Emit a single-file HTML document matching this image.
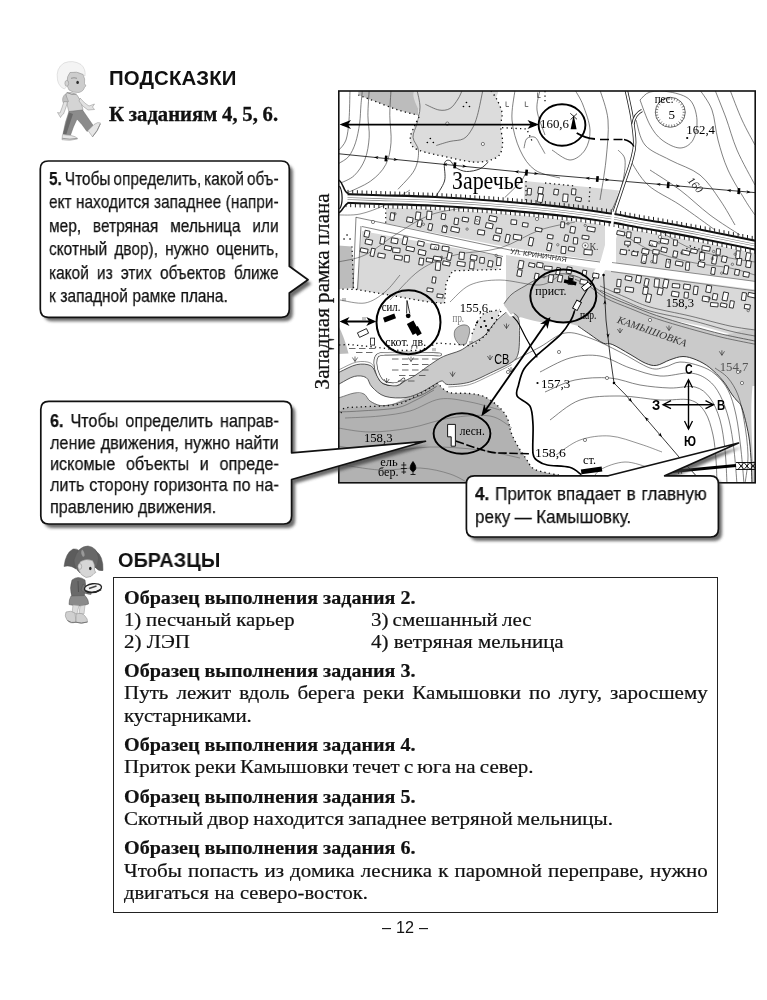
<!DOCTYPE html>
<html lang="ru"><head><meta charset="utf-8"><title>Подсказки</title>
<style>
html,body{margin:0;padding:0;background:#fff;}
body{width:767px;height:1000px;position:relative;overflow:hidden;color:#111;}
.t{position:absolute;white-space:pre;transform-origin:0 0;margin:0;padding:0;}
.t b{font-weight:700;}
svg{position:absolute;left:0;top:0;will-change:transform;}
.t{will-change:transform;}
.box{position:absolute;left:113px;top:577.2px;width:605.4px;height:335.4px;border:1.3px solid #222;box-sizing:border-box;}
</style></head><body>
<svg width="767" height="1000" viewBox="0 0 767 1000">
<defs><clipPath id="mc"><rect x="338.8" y="91" width="416.4" height="391.8"/></clipPath></defs>
<g clip-path="url(#mc)">
<rect x="338" y="90" width="418" height="394" fill="#fff"/>
<path d="M358.3,90 L418,90 L418.5,115.4 L398,110 L376,101.7 L358.3,95Z" fill="#bcbcbc"/>
<path d="M418.0,88.0 C429.9,83.4 477.9,86.2 491.0,88.0 C504.1,89.8 494.8,94.9 496.6,99.0 C498.4,103.1 501.3,108.0 502.0,112.6 C502.7,117.1 500.6,121.3 500.7,126.3 C500.8,131.3 502.8,138.0 502.6,142.8 C502.4,147.6 501.7,152.1 499.3,155.1 C496.9,158.1 492.9,159.5 488.3,160.6 C483.7,161.7 479.2,162.6 471.9,161.9 C464.6,161.2 452.2,158.1 444.5,156.5 C436.8,154.9 430.6,153.9 425.4,152.3 C420.1,150.7 415.5,149.4 413.0,146.9 C410.5,144.4 410.1,140.7 410.3,137.3 C410.5,133.9 412.8,129.9 414.4,126.3 C416.0,122.6 419.3,121.8 419.9,115.4 C420.5,109.0 406.1,92.6 418.0,88.0Z" fill="#dcdcdc"/>
<path d="M338,245.5 L352,246.5 L354,288 L338,289Z" fill="#bcbcbc"/>
<polygon points="386.0,207.8 396.0,208.1 406.0,208.4 416.0,208.8 426.0,209.1 436.0,209.5 446.0,210.1 456.0,210.7 466.0,211.3 476.0,211.9 486.0,212.6 496.0,213.3 506.0,214.1 516.0,215.0 526.0,215.8 536.0,216.7 546.0,217.7 556.0,218.8 566.0,219.9 576.0,221.1 586.0,222.4 596.0,223.8 605.0,225.1 605.0,261.7 596.0,260.4 586.0,258.9 576.0,257.4 566.0,255.9 556.0,254.4 546.0,252.9 536.0,251.4 526.0,249.9 516.0,248.4 506.0,246.8 496.0,244.9 486.0,243.0 476.0,241.1 466.0,239.1 456.0,237.1 446.0,235.2 436.0,233.2 426.0,231.2 416.0,229.2 406.0,227.2 396.0,225.2 386.0,223.3" fill="#d9d9d9"/>
<polygon points="524.5,181.0 592.0,187.5 619.0,190.5 612.0,213.0 524.0,201.0" fill="#d9d9d9"/>
<polygon points="362.0,231.0 502.0,256.5 500.7,269.4 452.7,270.8 446.0,283.0 444.5,303.5 425.4,301.5 400.0,297.0 357.0,289.5" fill="#d9d9d9"/>
<polygon points="506.0,255.0 601.0,269.5 755.0,289.5 760.0,290.0 760.0,345.0 736.4,336.0 701.0,326.0 666.0,319.0 630.8,309.0 606.0,299.0 588.6,287.0 575.0,280.0 560.0,277.5 540.0,281.0 525.0,289.0 512.0,297.0 506.0,303.0" fill="#d9d9d9"/>
<path d="M507.1,311.5 C508.5,308.5 503.2,306.6 504.0,303.7 C504.8,300.8 508.5,296.9 512.0,294.0 C515.5,291.1 520.3,288.7 525.0,286.0 C529.7,283.3 534.2,280.0 540.0,278.0 C545.8,276.0 554.2,274.1 560.0,273.8 C565.8,273.5 570.2,274.5 575.0,276.0 C579.8,277.5 583.4,279.4 588.6,282.6 C593.8,285.8 599.0,291.2 606.0,295.0 C613.0,298.8 622.4,302.1 630.8,305.5 C639.2,308.9 646.7,312.2 656.5,315.5 C666.3,318.8 678.6,322.4 689.7,325.5 C700.8,328.6 711.3,331.6 723.0,334.4 C734.7,337.1 753.8,317.1 760.0,342.0 C766.2,366.9 761.3,460.3 760.0,484.0 C758.7,507.7 753.5,488.2 752.0,484.0 C750.5,479.8 751.6,466.8 751.0,458.6 C750.4,450.4 750.1,443.5 748.6,435.0 C747.1,426.5 744.0,413.6 741.9,407.8 C739.8,402.0 738.0,402.3 736.3,400.0 C734.6,397.7 734.0,397.4 731.8,394.2 C729.6,391.0 726.7,385.3 723.0,380.9 C719.3,376.5 714.1,371.1 709.7,367.6 C705.3,364.1 700.9,361.8 696.4,359.9 C691.9,358.0 687.4,356.5 683.0,356.5 C678.6,356.5 674.2,358.4 669.8,359.9 C665.4,361.4 660.6,364.8 656.5,365.4 C652.4,365.9 649.8,365.0 645.4,363.2 C641.0,361.4 635.5,357.4 630.0,354.3 C624.5,351.2 616.7,346.2 612.2,344.4 C607.8,342.5 607.0,344.9 603.3,343.2 C599.6,341.5 594.2,337.3 590.0,334.4 C585.8,331.5 583.0,328.0 578.0,326.0 C573.0,324.0 566.3,323.2 560.0,322.5 C553.7,321.8 545.5,322.6 540.0,322.0 C534.5,321.4 530.6,319.6 527.0,319.0 C523.4,318.4 519.9,315.5 518.6,318.7 C517.4,321.9 519.6,332.1 519.5,338.0 C519.4,343.9 519.3,349.9 518.0,354.0 C516.7,358.1 516.3,359.2 511.7,362.3 C507.1,365.4 497.6,369.6 490.5,372.9 C483.4,376.2 476.4,380.2 469.4,382.2 C462.4,384.1 452.8,384.8 448.3,384.6 C443.8,384.4 444.3,381.2 442.4,381.0 C440.4,380.8 439.9,381.6 436.6,383.4 C433.3,385.2 427.6,389.2 422.5,391.6 C417.4,394.0 412.2,396.7 406.0,397.5 C399.8,398.3 390.7,398.1 385.0,396.3 C379.3,394.6 375.1,390.1 372.0,387.0 C368.9,383.9 369.1,379.4 366.2,377.6 C363.3,375.8 358.7,375.4 354.4,376.4 C350.1,377.4 343.7,381.6 340.3,383.4 C336.9,385.2 335.1,388.4 334.0,387.0 C332.9,385.6 332.9,377.6 334.0,375.0 C335.1,372.4 336.5,373.4 340.3,371.7 C344.1,370.0 351.7,365.6 356.8,364.6 C361.9,363.6 367.6,364.0 370.9,365.8 C374.2,367.6 374.8,372.3 376.7,375.2 C378.6,378.1 379.3,381.6 382.6,383.4 C385.9,385.2 393.0,386.2 396.7,385.8 C400.4,385.4 401.8,382.8 404.9,381.0 C408.0,379.2 410.9,378.1 415.4,375.2 C419.9,372.3 427.2,366.6 431.9,363.5 C436.6,360.4 438.9,358.5 443.6,356.4 C448.3,354.2 455.7,352.6 460.0,350.6 C464.3,348.7 465.4,347.1 469.4,344.7 C473.4,342.2 479.8,339.8 484.2,335.9 C488.6,332.0 491.8,325.7 495.6,321.6 C499.4,317.5 505.7,314.5 507.1,311.5Z" fill="#cacaca"/>
<polygon points="616.0,226.8 626.0,228.7 636.0,230.5 646.0,232.3 656.0,233.9 666.0,235.7 676.0,237.6 686.0,239.4 696.0,241.3 706.0,243.2 716.0,245.2 726.0,247.2 736.0,249.3 746.0,251.3 756.0,253.3 756.0,281.7 746.0,280.4 736.0,279.1 726.0,277.7 716.0,276.4 706.0,275.1 696.0,273.8 686.0,272.4 676.0,271.1 666.0,269.8 656.0,268.5 646.0,267.1 636.0,265.8 626.0,264.5 616.0,263.2" fill="#d9d9d9"/>
<path d="M616,222 L605,262 L597,275" stroke="#fff" stroke-width="9" fill="none"/>
<path d="M503,250 L498.8,306" stroke="#fff" stroke-width="6.5" fill="none"/>
<polygon points="334.0,399.0 340.3,397.4 354.4,393.0 364.0,394.0 370.0,401.0 380.0,405.5 392.0,404.5 406.0,397.5 422.5,391.6 436.6,383.4 439.0,384.0 431.9,388.5 415.4,398.0 396.7,406.5 361.5,409.0 345.0,410.0 340.0,414.0 334.0,416.0" fill="#c2c2c2"/>
<path d="M334.0,416.0 C335.0,403.2 338.2,412.3 340.0,411.0 C341.8,409.7 341.4,408.7 345.0,408.0 C348.6,407.3 352.9,407.5 361.5,406.9 C370.1,406.3 387.7,406.3 396.7,404.5 C405.7,402.7 409.5,399.2 415.4,396.3 C421.3,393.4 428.2,389.0 431.9,386.9 C435.6,384.8 435.9,383.2 437.7,383.4 C439.4,383.6 440.2,386.5 442.4,388.1 C444.5,389.7 446.1,391.9 450.6,392.8 C455.1,393.7 463.9,392.9 469.4,393.5 C474.9,394.1 478.8,394.3 483.5,396.3 C488.2,398.3 493.7,402.2 497.6,405.7 C501.5,409.2 504.7,412.9 507.0,417.4 C509.3,421.9 509.4,427.9 511.3,432.9 C513.2,437.9 516.2,443.2 518.6,447.5 C521.0,451.8 523.5,454.9 525.9,458.4 C528.3,461.9 529.6,466.0 533.2,468.4 C536.9,470.8 540.8,471.4 547.8,473.0 C554.8,474.6 566.3,475.5 575.0,478.0 C583.7,480.5 640.2,486.3 600.0,488.0 C559.8,489.7 378.3,500.0 334.0,488.0 C289.7,476.0 333.0,428.8 334.0,416.0Z" fill="#b2b2b2"/>
<rect x="334" y="425" width="70" height="62" fill="#b2b2b2"/>
<path d="M752.5,386 C750,410 752,440 753,461 L756,461 L756,386Z" fill="#fff"/>
<path d="M470,346 L472,334 L477,322 L484,313 L500,310 L497,320 L486,335 L474,346Z" fill="#dcdcdc"/>
<path d="M455,330 C458,325 466,323 469,327 C471,332 468,338 466,344 L460,345 C455,341 453,335 455,330Z" fill="#bdbdbd" stroke="#4a4a4a" stroke-width="0.6"/>
<path d="M338,325 Q344,336 348.5,353.500 L338,354Z" fill="#bcbcbc"/>
<path d="M339.0,163.3 C340.6,162.2 345.9,159.9 348.7,156.5 C351.4,153.1 353.7,148.3 355.5,142.8 C357.3,137.3 358.7,130.0 359.6,123.6 C360.5,117.2 360.5,110.0 361.0,104.4 C361.5,98.8 362.2,92.4 362.4,90.0" fill="none" stroke="#4a4a4a" stroke-width="0.7"/>
<path d="M339.0,183.8 C341.5,182.4 349.9,179.7 354.2,175.6 C358.5,171.5 362.5,165.6 365.0,159.2 C367.5,152.8 368.7,144.6 369.2,137.3 C369.7,130.0 367.9,123.3 367.9,115.4 C367.9,107.5 369.0,94.2 369.2,90.0" fill="none" stroke="#4a4a4a" stroke-width="0.7"/>
<path d="M346.0,193.4 C350.1,191.3 364.0,185.9 370.6,181.1 C377.2,176.3 382.3,171.1 385.7,164.7 C389.1,158.3 390.3,151.0 391.0,142.8 C391.7,134.6 389.8,124.2 389.8,115.4 C389.8,106.6 390.8,94.2 391.0,90.0" fill="none" stroke="#4a4a4a" stroke-width="0.7"/>
<path d="M398.0,189.3 C400.7,186.1 411.0,176.5 414.4,170.1 C417.8,163.7 418.7,156.5 418.5,151.0 C418.3,145.5 413.2,141.9 413.0,137.3 C412.8,132.7 415.8,128.6 417.0,123.6 C418.2,118.6 420.0,112.8 420.0,107.2 C420.0,101.6 417.5,92.9 417.0,90.0" fill="none" stroke="#4a4a4a" stroke-width="0.7"/>
<path d="M425.4,104.4 C427.7,105.3 434.9,109.3 439.0,110.0 C443.1,110.7 446.8,110.3 450.0,108.5 C453.2,106.7 455.9,102.1 458.0,99.0 C460.1,95.9 461.6,91.5 462.3,90.0" fill="none" stroke="#4a4a4a" stroke-width="0.7"/>
<path d="M436.3,145.5 C438.6,144.8 445.4,142.5 450.0,141.4 C454.6,140.3 460.0,140.8 463.7,138.7 C467.4,136.6 469.7,132.9 472.0,129.0 C474.3,125.1 475.6,121.9 477.4,115.4 C479.2,108.9 482.0,94.2 482.9,90.0" fill="none" stroke="#4a4a4a" stroke-width="0.7"/>
<path d="M435.0,197.5 C436.6,194.8 442.9,186.7 444.5,181.0 C446.1,175.3 443.6,166.7 444.5,163.3 C445.4,159.9 448.2,159.9 450.0,160.6 C451.8,161.3 452.8,165.6 455.5,167.4 C458.2,169.2 462.3,171.3 466.4,171.5 C470.5,171.7 476.4,170.4 480.0,168.8 C483.6,167.2 486.9,163.1 488.3,162.0" fill="none" stroke="#222" stroke-width="0.9"/>
<path d="M524.0,148.2 C524.5,146.6 524.9,140.5 526.7,138.7 C528.5,136.9 532.7,136.2 535.0,137.3 C537.3,138.4 538.7,142.8 540.4,145.5 C542.1,148.2 544.2,152.3 545.0,153.7" fill="none" stroke="#4a4a4a" stroke-width="0.7"/>
<path d="M504.8,197.5 C507.5,194.8 517.6,185.6 521.2,181.0 C524.9,176.4 525.8,171.8 526.7,170.0" fill="none" stroke="#4a4a4a" stroke-width="0.7"/>
<path d="M339.0,150.0 C340.2,148.3 344.3,145.0 346.0,140.0 C347.7,135.0 348.3,128.3 349.0,120.0 C349.7,111.7 349.8,95.0 350.0,90.0" fill="none" stroke="#4a4a4a" stroke-width="0.7"/>
<path d="M515.0,90.0 C514.5,95.0 511.2,110.0 512.0,120.0 C512.8,130.0 516.2,141.7 520.0,150.0 C523.8,158.3 528.3,165.3 535.0,170.0 C541.7,174.7 555.8,176.7 560.0,178.0" fill="none" stroke="#4a4a4a" stroke-width="0.7"/>
<path d="M540.0,90.0 C539.5,93.3 536.2,102.5 537.0,110.0 C537.8,117.5 543.7,130.8 545.0,135.0" fill="none" stroke="#4a4a4a" stroke-width="0.7"/>
<path d="M575.0,90.0 C576.3,92.5 580.5,98.3 583.0,105.0 C585.5,111.7 589.7,122.5 590.0,130.0 C590.3,137.5 588.3,145.0 585.0,150.0 C581.7,155.0 575.5,160.0 570.0,160.0 C564.5,160.0 555.0,151.7 552.0,150.0" fill="none" stroke="#4a4a4a" stroke-width="0.7"/>
<path d="M600.0,90.0 C601.3,95.0 607.0,108.3 608.0,120.0 C609.0,131.7 607.3,146.7 606.0,160.0 C604.7,173.3 601.0,193.3 600.0,200.0" fill="none" stroke="#4a4a4a" stroke-width="0.7"/>
<path d="M618.0,150.0 C619.2,151.7 624.3,154.2 625.0,160.0 C625.7,165.8 624.2,176.7 622.0,185.0 C619.8,193.3 613.7,205.8 612.0,210.0" fill="none" stroke="#4a4a4a" stroke-width="0.7"/>
<path d="M640.0,100.0 C641.7,98.7 645.0,93.3 650.0,92.0 C655.0,90.7 663.3,90.7 670.0,92.0 C676.7,93.3 685.5,95.3 690.0,100.0 C694.5,104.7 696.5,113.3 697.0,120.0 C697.5,126.7 695.8,135.3 693.0,140.0 C690.2,144.7 685.2,148.0 680.0,148.0 C674.8,148.0 667.0,143.8 662.0,140.0 C657.0,136.2 653.7,131.7 650.0,125.0 C646.3,118.3 641.7,104.2 640.0,100.0" fill="none" stroke="#4a4a4a" stroke-width="0.7"/>
<path d="M636.0,120.0 C637.5,124.2 639.3,138.3 645.0,145.0 C650.7,151.7 660.8,155.0 670.0,160.0 C679.2,165.0 691.7,168.3 700.0,175.0 C708.3,181.7 714.2,191.7 720.0,200.0 C725.8,208.3 732.5,220.8 735.0,225.0" fill="none" stroke="#4a4a4a" stroke-width="0.7"/>
<path d="M700.0,90.0 C702.0,93.3 709.0,101.7 712.0,110.0 C715.0,118.3 715.3,130.0 718.0,140.0 C720.7,150.0 723.5,160.0 728.0,170.0 C732.5,180.0 740.5,192.5 745.0,200.0 C749.5,207.5 753.3,212.5 755.0,215.0" fill="none" stroke="#4a4a4a" stroke-width="0.7"/>
<path d="M730.0,90.0 C732.0,95.0 737.8,110.8 742.0,120.0 C746.2,129.2 752.8,140.8 755.0,145.0" fill="none" stroke="#4a4a4a" stroke-width="0.7"/>
<path d="M715.0,90.0 C716.8,94.7 722.3,108.0 726.0,118.0 C729.7,128.0 732.2,138.8 737.0,150.0 C741.8,161.2 752.0,179.2 755.0,185.0" fill="none" stroke="#4a4a4a" stroke-width="0.7"/>
<path d="M650.0,170.0 C655.0,173.3 670.0,182.5 680.0,190.0 C690.0,197.5 700.0,207.5 710.0,215.0 C720.0,222.5 735.0,231.7 740.0,235.0" fill="none" stroke="#4a4a4a" stroke-width="0.7"/>
<path d="M630.0,160.0 C633.0,164.2 639.7,177.5 648.0,185.0 C656.3,192.5 668.8,197.5 680.0,205.0 C691.2,212.5 709.2,225.8 715.0,230.0" fill="none" stroke="#4a4a4a" stroke-width="0.7"/>
<path d="M338.0,215.0 C341.7,214.8 352.2,215.7 360.0,214.0 C367.8,212.3 376.7,209.0 385.0,205.0 C393.3,201.0 405.8,192.5 410.0,190.0" fill="none" stroke="#4a4a4a" stroke-width="0.6"/>
<path d="M338.0,262.0 C342.5,260.8 355.5,259.5 365.0,255.0 C374.5,250.5 384.2,241.7 395.0,235.0 C405.8,228.3 417.5,219.7 430.0,215.0 C442.5,210.3 463.3,208.3 470.0,207.0" fill="none" stroke="#4a4a4a" stroke-width="0.6"/>
<path d="M390.0,300.0 C395.0,295.0 409.2,277.5 420.0,270.0 C430.8,262.5 441.7,258.7 455.0,255.0 C468.3,251.3 485.8,252.2 500.0,248.0 C514.2,243.8 527.5,234.3 540.0,230.0 C552.5,225.7 569.2,223.3 575.0,222.0" fill="none" stroke="#4a4a4a" stroke-width="0.6"/>
<path d="M340.0,300.0 C344.2,300.5 357.5,304.3 365.0,303.0 C372.5,301.7 379.2,296.7 385.0,292.0 C390.8,287.3 397.5,277.8 400.0,275.0" fill="none" stroke="#4a4a4a" stroke-width="0.6"/>
<path d="M450.0,302.0 C453.3,299.2 461.7,288.7 470.0,285.0 C478.3,281.3 488.3,280.0 500.0,280.0 C511.7,280.0 530.0,285.8 540.0,285.0 C550.0,284.2 556.7,276.7 560.0,275.0" fill="none" stroke="#4a4a4a" stroke-width="0.6"/>
<path d="M620.0,232.0 C625.0,235.0 638.3,245.0 650.0,250.0 C661.7,255.0 676.7,259.0 690.0,262.0 C703.3,265.0 719.2,265.8 730.0,268.0 C740.8,270.2 750.8,273.8 755.0,275.0" fill="none" stroke="#4a4a4a" stroke-width="0.6"/>
<path d="M655.0,228.0 C660.8,231.3 677.5,243.0 690.0,248.0 C702.5,253.0 719.2,255.7 730.0,258.0 C740.8,260.3 750.8,261.3 755.0,262.0" fill="none" stroke="#4a4a4a" stroke-width="0.6"/>
<path d="M600.0,286.0 C604.2,287.8 616.7,293.5 625.0,297.0 C633.3,300.5 639.2,303.8 650.0,307.0 C660.8,310.2 676.7,312.8 690.0,316.0 C703.3,319.2 719.2,323.7 730.0,326.0 C740.8,328.3 750.8,329.3 755.0,330.0" fill="none" stroke="#4a4a4a" stroke-width="0.7"/>
<path d="M600.0,290.0 C604.2,291.8 616.7,297.5 625.0,301.0 C633.3,304.5 639.2,307.8 650.0,311.0 C660.8,314.2 676.7,316.7 690.0,320.0 C703.3,323.3 719.2,328.3 730.0,331.0 C740.8,333.7 750.8,335.2 755.0,336.0" fill="none" stroke="#4a4a4a" stroke-width="0.7"/>
<path d="M515.0,360.0 C519.2,357.8 531.7,351.5 540.0,347.0 C548.3,342.5 556.7,334.5 565.0,333.0 C573.3,331.5 580.8,334.8 590.0,338.0 C599.2,341.2 610.0,347.0 620.0,352.0 C630.0,357.0 642.5,365.5 650.0,368.0 C657.5,370.5 660.0,368.0 665.0,367.0 C670.0,366.0 674.2,362.2 680.0,362.0 C685.8,361.8 694.2,364.0 700.0,366.0 C705.8,368.0 710.3,370.0 715.0,374.0 C719.7,378.0 724.5,383.2 728.0,390.0 C731.5,396.8 733.8,405.0 736.0,415.0 C738.2,425.0 739.7,438.5 741.0,450.0 C742.3,461.5 743.5,478.3 744.0,484.0" fill="none" stroke="#4a4a4a" stroke-width="0.7"/>
<path d="M540.0,372.0 C545.0,369.7 560.0,360.7 570.0,358.0 C580.0,355.3 590.0,354.3 600.0,356.0 C610.0,357.7 620.0,364.7 630.0,368.0 C640.0,371.3 650.0,375.2 660.0,376.0 C670.0,376.8 682.0,372.3 690.0,373.0 C698.0,373.7 703.0,376.3 708.0,380.0 C713.0,383.7 716.5,388.3 720.0,395.0 C723.5,401.7 726.7,410.8 729.0,420.0 C731.3,429.2 732.7,439.3 734.0,450.0 C735.3,460.7 736.5,478.3 737.0,484.0" fill="none" stroke="#4a4a4a" stroke-width="0.7"/>
<path d="M545.0,392.0 C550.0,390.0 564.2,382.3 575.0,380.0 C585.8,377.7 599.2,377.2 610.0,378.0 C620.8,378.8 630.0,383.3 640.0,385.0 C650.0,386.7 660.8,387.7 670.0,388.0 C679.2,388.3 688.3,385.3 695.0,387.0 C701.7,388.7 705.8,392.5 710.0,398.0 C714.2,403.5 717.5,411.3 720.0,420.0 C722.5,428.7 723.8,439.3 725.0,450.0 C726.2,460.7 726.7,478.3 727.0,484.0" fill="none" stroke="#4a4a4a" stroke-width="0.7"/>
<path d="M550.0,420.0 C555.0,416.7 568.3,404.0 580.0,400.0 C591.7,396.0 606.7,396.0 620.0,396.0 C633.3,396.0 648.3,399.3 660.0,400.0 C671.7,400.7 682.5,398.0 690.0,400.0 C697.5,402.0 701.2,406.2 705.0,412.0 C708.8,417.8 711.2,427.0 713.0,435.0 C714.8,443.0 715.3,451.8 716.0,460.0 C716.7,468.2 716.8,480.0 717.0,484.0" fill="none" stroke="#4a4a4a" stroke-width="0.7"/>
<path d="M745.0,484.0 C745.5,479.2 748.2,465.7 748.0,455.0 C747.8,444.3 745.7,430.0 744.0,420.0 C742.3,410.0 740.7,402.0 738.0,395.0 C735.3,388.0 731.8,382.5 728.0,378.0 C724.2,373.5 717.2,369.7 715.0,368.0" fill="none" stroke="#4a4a4a" stroke-width="0.7"/>
<path d="M556.0,455.0 C560.0,452.5 571.0,443.2 580.0,440.0 C589.0,436.8 600.0,435.3 610.0,436.0 C620.0,436.7 631.3,441.3 640.0,444.0 C648.7,446.7 658.3,450.7 662.0,452.0" fill="none" stroke="#4a4a4a" stroke-width="0.6"/>
<path d="M590.0,484.0 C591.7,481.7 594.2,473.7 600.0,470.0 C605.8,466.3 616.7,462.3 625.0,462.0 C633.3,461.7 645.8,467.0 650.0,468.0" fill="none" stroke="#4a4a4a" stroke-width="0.6"/>
<path d="M504.0,303.7 C505.3,302.1 508.5,296.9 512.0,294.0 C515.5,291.1 520.3,288.7 525.0,286.0 C529.7,283.3 534.2,280.0 540.0,278.0 C545.8,276.0 554.2,274.1 560.0,273.8 C565.8,273.5 570.2,274.5 575.0,276.0 C579.8,277.5 583.4,279.4 588.6,282.6 C593.8,285.8 599.0,291.2 606.0,295.0 C613.0,298.8 622.4,302.1 630.8,305.5 C639.2,308.9 646.7,312.2 656.5,315.5 C666.3,318.8 678.6,322.4 689.7,325.5 C700.8,328.6 711.3,331.6 723.0,334.4 C734.7,337.1 753.8,340.7 760.0,342.0" fill="none" stroke="#4a4a4a" stroke-width="0.8"/>
<path d="M575.0,279.2 C577.3,280.3 583.4,282.6 588.6,285.8 C593.8,289.0 599.0,294.4 606.0,298.2 C613.0,302.0 622.4,305.3 630.8,308.7 C639.2,312.1 646.7,315.4 656.5,318.7 C666.3,322.0 678.6,325.6 689.7,328.7 C700.8,331.8 711.3,334.8 723.0,337.6 C734.7,340.3 753.8,343.9 760.0,345.2" fill="none" stroke="#4a4a4a" stroke-width="0.7"/>
<path d="M752.0,484.0 C751.8,479.8 751.6,466.8 751.0,458.6 C750.4,450.4 750.1,443.5 748.6,435.0 C747.1,426.5 744.0,413.6 741.9,407.8 C739.8,402.0 738.0,402.3 736.3,400.0 C734.6,397.7 734.0,397.4 731.8,394.2 C729.6,391.0 726.7,385.3 723.0,380.9 C719.3,376.5 714.1,371.1 709.7,367.6 C705.3,364.1 700.9,361.8 696.4,359.9 C691.9,358.0 687.4,356.5 683.0,356.5 C678.6,356.5 674.2,358.4 669.8,359.9 C665.4,361.4 660.6,364.8 656.5,365.4 C652.4,365.9 649.8,365.0 645.4,363.2 C641.0,361.4 635.5,357.4 630.0,354.3 C624.5,351.2 616.7,346.2 612.2,344.4 C607.8,342.5 607.0,344.9 603.3,343.2 C599.6,341.5 594.2,337.3 590.0,334.4 C585.8,331.5 580.0,327.4 578.0,326.0" fill="none" stroke="#222" stroke-width="0.9"/>
<path d="M512.9,313.0 C513.9,313.9 517.5,314.5 518.6,318.7 C519.7,322.9 519.6,332.1 519.5,338.0 C519.4,343.9 519.3,349.9 518.0,354.0 C516.7,358.1 516.3,359.2 511.7,362.3 C507.1,365.4 497.6,369.6 490.5,372.9 C483.4,376.2 476.4,380.2 469.4,382.2 C462.4,384.1 452.8,384.8 448.3,384.6 C443.8,384.4 444.3,381.2 442.4,381.0 C440.4,380.8 439.9,381.6 436.6,383.4 C433.3,385.2 427.6,389.2 422.5,391.6 C417.4,394.0 412.2,396.7 406.0,397.5 C399.8,398.3 390.7,398.1 385.0,396.3 C379.3,394.6 375.1,390.1 372.0,387.0 C368.9,383.9 369.1,379.4 366.2,377.6 C363.3,375.8 358.7,375.4 354.4,376.4 C350.1,377.4 343.7,381.6 340.3,383.4 C336.9,385.2 335.1,386.4 334.0,387.0" fill="none" stroke="#333" stroke-width="0.8"/>
<path d="M334.0,375.0 C335.1,374.4 336.5,373.4 340.3,371.7 C344.1,370.0 351.7,365.6 356.8,364.6 C361.9,363.6 367.6,364.0 370.9,365.8 C374.2,367.6 374.8,372.3 376.7,375.2 C378.6,378.1 379.3,381.6 382.6,383.4 C385.9,385.2 393.0,386.2 396.7,385.8 C400.4,385.4 401.8,382.8 404.9,381.0 C408.0,379.2 410.9,378.1 415.4,375.2 C419.9,372.3 427.2,366.6 431.9,363.5 C436.6,360.4 438.9,358.5 443.6,356.4 C448.3,354.2 455.7,352.6 460.0,350.6 C464.3,348.7 465.4,347.1 469.4,344.7 C473.4,342.2 479.8,339.8 484.2,335.9 C488.6,332.0 491.8,325.7 495.6,321.6 C499.4,317.5 505.2,313.2 507.1,311.5" fill="none" stroke="#333" stroke-width="0.8"/>
<path d="M334.0,399.0 C335.1,398.7 336.9,398.4 340.3,397.4 C343.7,396.4 350.4,393.6 354.4,393.0 C358.3,392.4 361.4,392.7 364.0,394.0 C366.6,395.3 367.3,399.1 370.0,401.0 C372.7,402.9 376.3,404.9 380.0,405.5 C383.7,406.1 387.7,405.3 392.0,404.5 C396.3,403.7 400.9,402.1 406.0,400.5 C411.1,398.9 417.4,397.0 422.5,394.6 C427.6,392.2 434.2,387.8 436.6,386.4" fill="none" stroke="#444" stroke-width="0.7"/>
<path d="M334.0,372.4 C335.1,371.8 336.5,370.8 340.3,369.1 C344.1,367.4 351.7,363.0 356.8,362.0 C361.9,361.0 367.6,361.4 370.9,363.2 C374.2,365.0 375.7,371.0 376.7,372.6" fill="none" stroke="#555" stroke-width="0.6"/>
<path d="M511.7,364.7 C508.2,366.5 497.6,372.0 490.5,375.3 C483.4,378.6 476.4,382.6 469.4,384.6 C462.4,386.5 451.8,386.6 448.3,387.0" fill="none" stroke="#555" stroke-width="0.6"/>
<path d="M440.0,354.5 C435.0,354.3 419.2,353.6 410.0,353.5 C400.8,353.4 390.4,353.4 385.0,353.7 C379.6,354.0 379.1,353.9 377.5,355.5 C375.9,357.1 375.2,359.7 375.3,363.0 C375.4,366.3 376.9,372.0 378.3,375.2 C379.8,378.4 380.9,380.8 384.0,382.3 C387.1,383.8 393.4,384.5 396.7,384.0 C399.9,383.5 402.4,380.2 403.5,379.5" fill="none" stroke="#333" stroke-width="3.6" stroke-linecap="round"/>
<path d="M440.0,354.5 C435.0,354.3 419.2,353.6 410.0,353.5 C400.8,353.4 390.4,353.4 385.0,353.7 C379.6,354.0 379.1,353.9 377.5,355.5 C375.9,357.1 375.2,359.7 375.3,363.0 C375.4,366.3 376.9,372.0 378.3,375.2 C379.8,378.4 380.9,380.8 384.0,382.3 C387.1,383.8 393.4,384.5 396.7,384.0 C399.9,383.5 402.4,380.2 403.5,379.5" fill="none" stroke="#f6f6f6" stroke-width="2.3" stroke-linecap="round"/>
<path d="M338.0,428.0 C343.3,428.7 358.0,432.0 370.0,432.0 C382.0,432.0 396.7,430.3 410.0,428.0 C423.3,425.7 436.7,420.0 450.0,418.0 C463.3,416.0 479.7,414.3 490.0,416.0 C500.3,417.7 508.3,426.0 512.0,428.0" fill="none" stroke="#666" stroke-width="0.6"/>
<path d="M338.0,446.0 C345.0,447.0 364.7,451.8 380.0,452.0 C395.3,452.2 413.3,447.3 430.0,447.0 C446.7,446.7 465.0,448.2 480.0,450.0 C495.0,451.8 513.3,456.7 520.0,458.0" fill="none" stroke="#666" stroke-width="0.6"/>
<path d="M338.0,464.0 C345.0,465.0 366.3,469.3 380.0,470.0 C393.7,470.7 408.3,467.3 420.0,468.0 C431.7,468.7 441.7,471.3 450.0,474.0 C458.3,476.7 466.7,482.3 470.0,484.0" fill="none" stroke="#666" stroke-width="0.6"/>
<path d="M345.0,418.0 C350.8,417.7 369.2,417.2 380.0,416.0 C390.8,414.8 400.0,413.8 410.0,411.0 C420.0,408.2 430.0,400.5 440.0,399.0 C450.0,397.5 460.0,400.2 470.0,402.0 C480.0,403.8 495.0,408.7 500.0,410.0" fill="none" stroke="#666" stroke-width="0.6"/>
<path d="M338.0,412.0 C341.7,411.8 350.3,411.7 360.0,411.0 C369.7,410.3 386.7,409.8 396.0,408.0 C405.3,406.2 409.7,403.0 416.0,400.0 C422.3,397.0 431.0,391.7 434.0,390.0" fill="none" stroke="#555" stroke-width="0.6"/>
<path d="M491.0,91.0 C491.9,92.3 494.8,95.4 496.6,99.0 C498.4,102.6 501.3,108.0 502.0,112.6 C502.7,117.1 500.6,121.3 500.7,126.3 C500.8,131.3 502.8,138.0 502.6,142.8 C502.4,147.6 501.7,152.1 499.3,155.1 C496.9,158.1 492.9,159.5 488.3,160.6 C483.7,161.7 479.2,162.6 471.9,161.9 C464.6,161.2 452.2,158.1 444.5,156.5 C436.8,154.9 430.6,153.9 425.4,152.3 C420.1,150.7 415.5,149.4 413.0,146.9 C410.5,144.4 410.1,140.7 410.3,137.3 C410.5,133.9 412.8,129.9 414.4,126.3 C416.0,122.6 419.0,117.2 419.9,115.4" fill="none" stroke="#111" stroke-width="1.3" stroke-dasharray="1.3 3.2" stroke-linecap="butt"/>
<path d="M358.3,95.0 C361.2,96.1 369.4,99.2 376.0,101.7 C382.6,104.2 390.9,107.7 398.0,110.0 C405.1,112.3 415.1,114.5 418.5,115.4" fill="none" stroke="#111" stroke-width="1.3" stroke-dasharray="1.3 3.2" stroke-linecap="butt"/>
<path d="M385.7,208 L385.7,226" fill="none" stroke="#111" stroke-width="1.3" stroke-dasharray="1.3 3.2" stroke-linecap="butt"/>
<path d="M500.7,269.4 L452.7,270.8 L446,283 L444.5,303.5 L425.4,301.5 L400,297 L357,289.5 L339,289" fill="none" stroke="#111" stroke-width="1.3" stroke-dasharray="1.3 3.2" stroke-linecap="butt"/>
<path d="M353.500,288 L352,246.5" fill="none" stroke="#111" stroke-width="1.3" stroke-dasharray="1.3 3.2" stroke-linecap="butt"/>
<path d="M339,345 L349,344.5 L378,347.4 L400,350.5 L420,350.5 L438,343 L458,344.5 L472.7,346 L486,335 L495.6,321.6 L501.4,310 M472,334 L477,322 L484,313 L500,309.5" fill="none" stroke="#111" stroke-width="1.3" stroke-dasharray="1.3 3.2" stroke-linecap="butt"/>
<path d="M341.0,413.0 C341.7,412.2 341.6,409.0 345.0,408.0 C348.4,407.0 352.9,407.5 361.5,406.9 C370.1,406.3 387.7,406.3 396.7,404.5 C405.7,402.7 409.5,399.2 415.4,396.3 C421.3,393.4 428.2,389.0 431.9,386.9 C435.6,384.8 435.9,383.2 437.7,383.4 C439.4,383.6 440.2,386.5 442.4,388.1 C444.5,389.7 446.1,391.9 450.6,392.8 C455.1,393.7 463.9,392.9 469.4,393.5 C474.9,394.1 478.8,394.3 483.5,396.3 C488.2,398.3 493.7,402.2 497.6,405.7 C501.5,409.2 504.7,412.9 507.0,417.4 C509.3,421.9 509.4,427.9 511.3,432.9 C513.2,437.9 516.2,443.2 518.6,447.5 C521.0,451.8 523.5,454.9 525.9,458.4 C528.3,461.9 529.6,466.0 533.2,468.4 C536.9,470.8 540.8,471.4 547.8,473.0 C554.8,474.6 570.5,477.2 575.0,478.0" fill="none" stroke="#111" stroke-width="1.3" stroke-dasharray="1.3 3.2" stroke-linecap="butt"/>
<path d="M526,181 L526,200 M590,187 L589,204 M545,183 L575,186" fill="none" stroke="#111" stroke-width="1.3" stroke-dasharray="1.3 3.2" stroke-linecap="butt"/>
<path d="M502,127.7 L526.7,129 L532.2,141.4 M545,91 L545,103" fill="none" stroke="#111" stroke-width="1.3" stroke-dasharray="1.3 3.2" stroke-linecap="butt"/>
<path d="M628,237 L628,250 L640,252 M683,252 L690,246 L702,250 L700,262" fill="none" stroke="#111" stroke-width="1.3" stroke-dasharray="1.3 3.2" stroke-linecap="butt"/>
<polyline points="338,153.7 545,174.5 756,192.7" fill="none" stroke="#222" stroke-width="0.9"/>
<rect x="384.7" y="155.5" width="2.6" height="6" fill="#000" transform="rotate(5.5 386 158.5)"/>
<polygon points="374.0,157.3 378.6,156.1 377.2,157.6 378.3,159.3" fill="#000"/>
<polygon points="398.0,159.7 393.4,160.9 394.8,159.4 393.7,157.7" fill="#000"/>
<rect x="453.5" y="162.4" width="2.6" height="6" fill="#000" transform="rotate(5.5 454.8 165.4)"/>
<polygon points="442.8,164.2 447.4,163.0 446.0,164.5 447.1,166.2" fill="#000"/>
<polygon points="466.8,166.6 462.2,167.8 463.6,166.4 462.5,164.6" fill="#000"/>
<rect x="525.2" y="169.6" width="2.6" height="6" fill="#000" transform="rotate(5.5 526.5 172.6)"/>
<polygon points="514.5,171.4 519.1,170.2 517.7,171.7 518.8,173.4" fill="#000"/>
<polygon points="538.5,173.8 533.9,175.0 535.3,173.6 534.2,171.8" fill="#000"/>
<rect x="596.1" y="176.0" width="2.6" height="6" fill="#000" transform="rotate(5.5 597.4 179.0)"/>
<polygon points="585.4,178.0 590.0,176.8 588.6,178.3 589.7,180.0" fill="#000"/>
<polygon points="609.4,180.1 604.8,181.2 606.2,179.8 605.1,178.1" fill="#000"/>
<rect x="666.9" y="182.1" width="2.6" height="6" fill="#000" transform="rotate(5.5 668.2 185.1)"/>
<polygon points="656.2,184.1 660.8,182.9 659.4,184.4 660.5,186.1" fill="#000"/>
<polygon points="680.2,186.2 675.6,187.4 677.0,185.9 675.9,184.2" fill="#000"/>
<rect x="737.5" y="188.2" width="2.6" height="6" fill="#000" transform="rotate(5.5 738.8 191.2)"/>
<polygon points="726.8,190.2 731.4,189.0 730.0,190.5 731.1,192.2" fill="#000"/>
<polygon points="750.8,192.3 746.2,193.4 747.6,192.0 746.5,190.3" fill="#000"/>
<polyline points="603.6,275.0 606.0,320.0 610.0,355.0 614.0,383.0 625.8,395.0 679.0,457.0 700.0,480.0" fill="none" stroke="#222" stroke-width="0.9"/>
<polygon points="605.0,300.0 606.4,304.6 604.9,303.2 603.2,304.4" fill="#000"/>
<polygon points="608.0,338.0 606.4,333.5 608.0,334.8 609.6,333.5" fill="#000"/>
<polygon points="645.0,417.0 649.2,419.3 647.1,419.4 646.7,421.4" fill="#000"/>
<polygon points="662.0,437.0 657.8,434.7 659.9,434.6 660.3,432.6" fill="#000"/>
<polygon points="632.0,402.0 627.8,399.7 629.9,399.6 630.3,397.6" fill="#000"/>
<circle cx="603.6" cy="275" r="1.3" fill="#000"/>
<circle cx="614" cy="383" r="1.3" fill="#000"/>
<path d="M334.0,198.1 C334.7,198.1 330.3,198.0 338.0,198.2 C345.7,198.4 363.8,199.1 380.0,199.6 C396.2,200.1 416.7,200.5 435.0,201.4 C453.3,202.3 472.5,203.5 490.0,204.8 C507.5,206.1 525.0,207.6 540.0,209.0 C555.0,210.4 567.8,211.9 580.0,213.5 C592.2,215.1 603.5,216.7 613.5,218.3 C623.5,219.9 632.2,221.9 640.0,223.3 C647.8,224.7 650.0,224.8 660.0,226.6 C670.0,228.4 683.8,230.8 700.0,234.0 C716.2,237.2 747.5,243.6 757.0,245.5" fill="none" stroke="#111" stroke-width="10.8"/>
<path d="M334.0,198.1 C334.7,198.1 330.3,198.0 338.0,198.2 C345.7,198.4 363.8,199.1 380.0,199.6 C396.2,200.1 416.7,200.5 435.0,201.4 C453.3,202.3 472.5,203.5 490.0,204.8 C507.5,206.1 525.0,207.6 540.0,209.0 C555.0,210.4 567.8,211.9 580.0,213.5 C592.2,215.1 603.5,216.7 613.5,218.3 C623.5,219.9 632.2,221.9 640.0,223.3 C647.8,224.7 650.0,224.8 660.0,226.6 C670.0,228.4 683.8,230.8 700.0,234.0 C716.2,237.2 747.5,243.6 757.0,245.5" fill="none" stroke="#fff" stroke-width="6.6"/>
<path d="M334.0,198.1 C334.7,198.1 330.3,198.0 338.0,198.2 C345.7,198.4 363.8,199.1 380.0,199.6 C396.2,200.1 416.7,200.5 435.0,201.4 C453.3,202.3 472.5,203.5 490.0,204.8 C507.5,206.1 525.0,207.6 540.0,209.0 C555.0,210.4 567.8,211.9 580.0,213.5 C592.2,215.1 603.5,216.7 613.5,218.3 C623.5,219.9 632.2,221.9 640.0,223.3 C647.8,224.7 650.0,224.8 660.0,226.6 C670.0,228.4 683.8,230.8 700.0,234.0 C716.2,237.2 747.5,243.6 757.0,245.5" fill="none" stroke="#777" stroke-width="2.6"/>
<path d="M334.0,198.1 C334.7,198.1 330.3,198.0 338.0,198.2 C345.7,198.4 363.8,199.1 380.0,199.6 C396.2,200.1 416.7,200.5 435.0,201.4 C453.3,202.3 472.5,203.5 490.0,204.8 C507.5,206.1 525.0,207.6 540.0,209.0 C555.0,210.4 567.8,211.9 580.0,213.5 C592.2,215.1 603.5,216.7 613.5,218.3 C623.5,219.9 632.2,221.9 640.0,223.3 C647.8,224.7 650.0,224.8 660.0,226.6 C670.0,228.4 683.8,230.8 700.0,234.0 C716.2,237.2 747.5,243.6 757.0,245.5" fill="none" stroke="#fff" stroke-width="1.4"/>
<path d="M348.0,189.9L348.0,193.5M352.7,190.1L352.7,193.7M357.4,190.2L357.4,193.8M362.1,190.4L362.1,194.0M366.8,190.6L366.8,194.2M371.5,190.7L371.5,194.3M376.2,190.9L376.2,194.5M380.9,191.0L380.9,194.6M385.6,191.2L385.6,194.8M390.3,191.3L390.3,194.9M395.0,191.5L395.0,195.1M399.7,191.6L399.7,195.2M404.4,191.8L404.4,195.4M409.1,191.9L409.1,195.5M413.8,192.1L413.8,195.7M418.5,192.3L418.5,195.9M423.2,192.4L423.2,196.0M427.9,192.6L427.9,196.2M432.6,192.7L432.6,196.3M437.3,192.9L437.3,196.5M442.0,193.2L442.0,196.8M446.7,193.5L446.7,197.1M451.4,193.8L451.4,197.4M456.1,194.1L456.1,197.7M460.8,194.4L460.8,198.0M465.5,194.7L465.5,198.3M470.2,195.0L470.2,198.6M474.9,195.3L474.9,198.9M479.6,195.6L479.6,199.2M484.3,195.8L484.3,199.4M489.0,196.1L489.0,199.7M493.7,196.5L493.7,200.1M498.4,196.9L498.4,200.5M503.1,197.3L503.1,200.9M507.8,197.7L507.8,201.3M512.5,198.1L512.5,201.7M517.2,198.5L517.2,202.1M521.9,198.9L521.9,202.5M526.6,199.3L526.6,202.9M531.3,199.7L531.3,203.3M536.0,200.1L536.0,203.7M540.7,200.5L540.7,204.1M545.4,201.0L545.4,204.6M550.1,201.5L550.1,205.1M554.8,202.1L554.8,205.7M559.5,202.6L559.5,206.2M564.2,203.1L564.2,206.7M568.9,203.7L568.9,207.3M573.6,204.2L573.6,207.8M578.3,204.7L578.3,208.3M583.0,205.3L583.0,208.9M587.7,206.0L587.7,209.6M592.4,206.7L592.4,210.3M597.1,207.4L597.1,211.0M601.8,208.0L601.8,211.6M606.5,208.7L606.5,212.3M611.2,209.4L611.2,213.0M615.9,210.2L615.9,213.8M620.6,211.0L620.6,214.6M625.3,211.9L625.3,215.5M630.0,212.8L630.0,216.4M634.7,213.7L634.7,217.3M639.4,214.6L639.4,218.2M644.1,215.4L644.1,219.0M648.8,216.2L648.8,219.8M653.5,216.9L653.5,220.5M658.2,217.7L658.2,221.3M662.9,218.5L662.9,222.1M667.6,219.4L667.6,223.0M672.3,220.3L672.3,223.9M677.0,221.1L677.0,224.7M681.7,222.0L681.7,225.6M686.4,222.9L686.4,226.5M691.1,223.8L691.1,227.4M695.8,224.6L695.8,228.2M700.5,225.5L700.5,229.1M705.2,226.4L705.2,230.0M709.9,227.4L709.9,231.0M714.6,228.3L714.6,231.9M719.3,229.3L719.3,232.9M724.0,230.2L724.0,233.8M728.7,231.2L728.7,234.8M733.4,232.1L733.4,235.7M738.1,233.1L738.1,236.7M742.8,234.0L742.8,237.6M747.5,235.0L747.5,238.6M752.2,235.9L752.2,239.5" stroke="#222" stroke-width="1.0" fill="none"/>
<path d="M346.0,203.5L346.0,207.1M350.7,203.6L350.7,207.2M355.4,203.8L355.4,207.4M360.1,203.9L360.1,207.5M364.8,204.1L364.8,207.7M369.5,204.2L369.5,207.8M374.2,204.4L374.2,208.0M378.9,204.5L378.9,208.1M383.6,204.7L383.6,208.3M388.3,204.9L388.3,208.5M393.0,205.0L393.0,208.6M397.7,205.2L397.7,208.8M402.4,205.3L402.4,208.9M407.1,205.5L407.1,209.1M411.8,205.6L411.8,209.2M416.5,205.8L416.5,209.4M421.2,205.9L421.2,209.5M425.9,206.1L425.9,209.7M430.6,206.3L430.6,209.9M435.3,206.4L435.3,210.0M440.0,206.7L440.0,210.3M444.7,207.0L444.7,210.6M449.4,207.3L449.4,210.9M454.1,207.6L454.1,211.2M458.8,207.9L458.8,211.5M463.5,208.2L463.5,211.8M468.2,208.5L468.2,212.1M472.9,208.7L472.9,212.3M477.6,209.0L477.6,212.6M482.3,209.3L482.3,212.9M487.0,209.6L487.0,213.2M491.7,209.9L491.7,213.5M496.4,210.3L496.4,213.9M501.1,210.7L501.1,214.3M505.8,211.1L505.8,214.7M510.5,211.5L510.5,215.1M515.2,211.9L515.2,215.5M519.9,212.3L519.9,215.9M524.6,212.7L524.6,216.3M529.3,213.1L529.3,216.7M534.0,213.5L534.0,217.1M538.7,213.9L538.7,217.5M543.4,214.4L543.4,218.0M548.1,214.9L548.1,218.5M552.8,215.4L552.8,219.0M557.5,216.0L557.5,219.6M562.2,216.5L562.2,220.1M566.9,217.0L566.9,220.6M571.6,217.6L571.6,221.2M576.3,218.1L576.3,221.7M581.0,218.6L581.0,222.2M585.7,219.3L585.7,222.9M590.4,220.0L590.4,223.6M595.1,220.7L595.1,224.3M599.8,221.3L599.8,224.9M604.5,222.0L604.5,225.6M609.2,222.7L609.2,226.3M613.9,223.4L613.9,227.0M618.6,224.3L618.6,227.9M623.3,225.1L623.3,228.7M628.0,226.0L628.0,229.6M632.7,226.9L632.7,230.5M637.4,227.8L637.4,231.4M642.1,228.6L642.1,232.2M646.8,229.4L646.8,233.0M651.5,230.2L651.5,233.8M656.2,231.0L656.2,234.6M660.9,231.8L660.9,235.4M665.6,232.6L665.6,236.2M670.3,233.5L670.3,237.1M675.0,234.4L675.0,238.0M679.7,235.2L679.7,238.8M684.4,236.1L684.4,239.7M689.1,237.0L689.1,240.6M693.8,237.9L693.8,241.5M698.5,238.7L698.5,242.3M703.2,239.6L703.2,243.2M707.9,240.6L707.9,244.2M712.6,241.5L712.6,245.1M717.3,242.5L717.3,246.1M722.0,243.4L722.0,247.0M726.7,244.4L726.7,248.0M731.4,245.3L731.4,248.9M736.1,246.3L736.1,249.9M740.8,247.2L740.8,250.8M745.5,248.2L745.5,251.8M750.2,249.1L750.2,252.7M754.9,250.1L754.9,253.7" stroke="#222" stroke-width="1.0" fill="none"/>
<path d="M338,179 C344,184 343,191 347.5,193.8 L347.5,203 C343,206 344,209 338,214Z" fill="#fff"/>
<path d="M339,180 C344,184 343,191 348,193.4 M339,213 C344,209 343,206 348,203" fill="none" stroke="#111" stroke-width="1.6"/>
<path d="M339.5,186 C343,192 343,204 339.5,209" fill="none" stroke="#111" stroke-width="1.2"/>
<path d="M613.5,210 L612,227" stroke="#fff" stroke-width="2.6"/>
<path d="M614.2,212.0 C615.7,207.6 620.3,194.1 623.2,185.4 C626.1,176.7 629.9,166.8 631.8,159.6 C633.7,152.4 634.7,149.6 634.7,142.4 C634.7,135.2 633.2,125.4 631.8,116.5 C630.3,107.6 627.0,93.6 626.0,89.0" fill="none" stroke="#222" stroke-width="3.4"/>
<path d="M614.2,212.0 C615.7,207.6 620.3,194.1 623.2,185.4 C626.1,176.7 629.9,166.8 631.8,159.6 C633.7,152.4 634.7,149.6 634.7,142.4 C634.7,135.2 633.2,125.4 631.8,116.5 C630.3,107.6 627.0,93.6 626.0,89.0" fill="none" stroke="#fff" stroke-width="1.8"/>
<path d="M633,124 C634,117 638,112.500 642,110.5" fill="none" stroke="#222" stroke-width="3.2"/>
<path d="M633,124 C634,117 638,112.500 642,110.5" fill="none" stroke="#fff" stroke-width="1.6"/>
<path d="M356,217 L353,289 M361,226 L357.5,289.500" stroke="#333" stroke-width="0.6" fill="none"/>
<path d="M356,217.3 L510,250 L600,262 M362,226.5 L503,256.5" stroke="#333" stroke-width="0.6" fill="none"/>
<path d="M612,262.5 L756,281.5 M611,271.5 L756,291" stroke="#333" stroke-width="0.5" fill="none"/>
<path d="M574.5,311.0 C573.9,312.5 573.3,316.1 571.0,320.0 C568.7,323.9 566.1,328.9 560.5,334.7 C554.9,340.5 543.6,349.0 537.5,354.7 C531.4,360.4 527.1,364.0 524.0,369.0 C520.9,374.0 519.7,380.2 518.6,384.7 C517.5,389.2 515.3,392.5 517.2,396.1 C519.1,399.7 527.4,401.4 530.0,406.2 C532.6,411.0 532.5,416.9 533.0,424.8 C533.5,432.7 532.2,447.5 533.0,453.5 C533.8,459.5 535.6,459.1 538.0,461.0 C540.4,462.9 542.0,463.9 547.3,465.0 C552.6,466.1 563.9,465.7 569.6,467.3 C575.3,468.9 579.4,473.5 581.4,474.7" fill="none" stroke="#000" stroke-width="1.7"/>
<path d="M537.2,357.4 C535.3,354.2 529.4,344.1 526.0,338.0 C522.6,331.9 520.0,325.2 517.0,321.0 C514.0,316.8 509.5,313.9 508.0,312.5" fill="none" stroke="#000" stroke-width="1.2"/>
<path d="M505,309 L511,316 M505,309 L501,305 M511,316 L514,314" stroke="#fff" stroke-width="2.2" fill="none"/>
<path d="M597,273 L574.5,311" fill="none" stroke="#000" stroke-width="1.1"/>
<path d="M455.6,441 Q470,446 480.2,449.3 T496.7,452.9 L531.5,453.8" fill="none" stroke="#000" stroke-width="1.6" stroke-dasharray="8.5 2.6"/>
<path d="M576.7,132.9 Q585,138 595,139" fill="none" stroke="#000" stroke-width="1.8"/>
<path d="M600,139.5 L624,139.5" fill="none" stroke="#000" stroke-width="1.6" stroke-dasharray="9 4.5"/>
<path d="M624,139.5 Q631,141 634,146.500" fill="none" stroke="#000" stroke-width="1.4"/>
<path d="M667,472 L736,465.5" stroke="#000" stroke-width="3"/>
<path d="M736,462.5 L756,462.5 M736,469.5 L756,469.5 M738,462.5 L744,469.5 L750,462.5 L756,469.5 M738,469.5 L744,462.5 L750,469.5 L756,462.5" stroke="#000" stroke-width="0.9" fill="none"/>
<path d="M678,466 L678.6,474 M681,465.7 L681.6,473.7" stroke="#000" stroke-width="0.7"/>
<circle cx="670.3" cy="112.3" r="15" fill="none" stroke="#333" stroke-width="0.7"/>
<path d="M685.3,112.3L682.7,112.3M685.0,115.4L682.4,114.9M684.0,118.4L681.6,117.3M682.4,121.1L680.3,119.6M680.3,123.4L678.6,121.5M677.8,125.3L676.5,123.0M674.9,126.6L674.1,124.1M671.9,127.2L671.6,124.6M668.7,127.2L669.0,124.6M665.7,126.6L666.5,124.1M662.8,125.3L664.1,123.0M660.3,123.4L662.0,121.5M658.2,121.1L660.3,119.6M656.6,118.4L659.0,117.3M655.6,115.4L658.2,114.9M655.3,112.3L657.9,112.3M655.6,109.2L658.2,109.7M656.6,106.2L659.0,107.3M658.2,103.5L660.3,105.0M660.3,101.2L662.0,103.1M662.8,99.3L664.1,101.6M665.7,98.0L666.5,100.5M668.7,97.4L669.0,100.0M671.9,97.4L671.6,100.0M674.9,98.0L674.1,100.5M677.8,99.3L676.5,101.6M680.3,101.2L678.6,103.1M682.4,103.5L680.3,105.0M684.0,106.2L681.6,107.3M685.0,109.2L682.4,109.7" stroke="#333" stroke-width="0.6"/>
<path d="M349.0,348.5h6.5M359.0,348.5h6.5M369.0,348.5h6.5M356.0,352.5h6.5M366.0,352.5h6.5M392.0,359h6.5M402.0,359h6.5M412.0,359h6.5M422.0,359h6.5M432.0,359h6.5M402.0,364.5h6.5M412.0,364.5h6.5M422.0,364.5h6.5M392.0,370h6.5M402.0,370h6.5M412.0,370h6.5M422.0,370h6.5M399.0,375.5h6.5M409.0,375.5h6.5M419.0,375.5h6.5M398.0,381h6.5M408.0,381h6.5" stroke="#444" stroke-width="0.8"/>
<path d="M355,361.5l-2.6,-4M355,361.5v-5M355,361.5l2.6,-4" stroke="#333" stroke-width="0.7" fill="none"/>
<path d="M411,361.5l-2.6,-4M411,361.5v-5M411,361.5l2.6,-4" stroke="#333" stroke-width="0.7" fill="none"/>
<path d="M386.6,383l-2.6,-4M386.6,383v-5M386.6,383l2.6,-4" stroke="#333" stroke-width="0.7" fill="none"/>
<path d="M452.6,376.5l-2.6,-4M452.6,376.5v-5M452.6,376.5l2.6,-4" stroke="#333" stroke-width="0.7" fill="none"/>
<path d="M490,360l-2.6,-4M490,360v-5M490,360l2.6,-4" stroke="#333" stroke-width="0.7" fill="none"/>
<path d="M506.5,328.5l-2.6,-4M506.5,328.5v-5M506.5,328.5l2.6,-4" stroke="#333" stroke-width="0.7" fill="none"/>
<path d="M620,333l-2.6,-4M620,333v-5M620,333l2.6,-4" stroke="#333" stroke-width="0.7" fill="none"/>
<path d="M669,330.5l-2.6,-4M669,330.5v-5M669,330.5l2.6,-4" stroke="#333" stroke-width="0.7" fill="none"/>
<path d="M721.9,355.3l-2.6,-4M721.9,355.3v-5M721.9,355.3l2.6,-4" stroke="#333" stroke-width="0.7" fill="none"/>
<path d="M511,372l-2.6,-4M511,372v-5M511,372l2.6,-4" stroke="#333" stroke-width="0.7" fill="none"/>
<path d="M343,298v3.2M345,298v3.2" stroke="#333" stroke-width="0.6"/>
<path d="M363,317v3.2M365,317v3.2" stroke="#333" stroke-width="0.6"/>
<path d="M433,348v3.2M435,348v3.2" stroke="#333" stroke-width="0.6"/>
<path d="M470,341v3.2M472,341v3.2" stroke="#333" stroke-width="0.6"/>
<circle cx="447.3" cy="123.6" r="1.6" fill="#fff" stroke="#333" stroke-width="0.6"/>
<circle cx="482.9" cy="144" r="1.6" fill="#fff" stroke="#333" stroke-width="0.6"/>
<circle cx="537" cy="219" r="1.6" fill="#fff" stroke="#333" stroke-width="0.6"/>
<circle cx="373" cy="222" r="1.6" fill="#fff" stroke="#333" stroke-width="0.6"/>
<circle cx="508" cy="372" r="1.6" fill="#fff" stroke="#333" stroke-width="0.6"/>
<circle cx="559" cy="352" r="1.6" fill="#fff" stroke="#333" stroke-width="0.6"/>
<circle cx="607" cy="378" r="1.6" fill="#fff" stroke="#333" stroke-width="0.6"/>
<circle cx="585" cy="440" r="1.6" fill="#fff" stroke="#333" stroke-width="0.6"/>
<circle cx="660" cy="237" r="1.6" fill="#fff" stroke="#333" stroke-width="0.6"/>
<circle cx="738" cy="372" r="1.6" fill="#fff" stroke="#333" stroke-width="0.6"/>
<circle cx="742" cy="383" r="1.6" fill="#fff" stroke="#333" stroke-width="0.6"/>
<circle cx="650" cy="320" r="1.6" fill="#fff" stroke="#333" stroke-width="0.6"/>
<path d="M466.4,102.5h.1M463.4,106.5h.1M469.4,106.5h.1" stroke="#000" stroke-width="1.6" stroke-linecap="round"/>
<path d="M430.3,138.5h.1M427.3,142.5h.1M433.3,142.5h.1" stroke="#000" stroke-width="1.6" stroke-linecap="round"/>
<path d="M347,235h.1M344,239h.1M350,239h.1" stroke="#000" stroke-width="1.6" stroke-linecap="round"/>
<circle cx="477" cy="322.5" r="1.1" fill="#000"/>
<circle cx="481" cy="327" r="1.1" fill="#000"/>
<circle cx="484.5" cy="321" r="1.1" fill="#000"/>
<circle cx="488" cy="330" r="1.1" fill="#000"/>
<circle cx="492" cy="318" r="1.1" fill="#000"/>
<circle cx="486" cy="326" r="1.1" fill="#000"/>
<path d="M506,101.5v5h3" stroke="#333" stroke-width="0.7" fill="none"/>
<path d="M525.3,101.5v5h3" stroke="#333" stroke-width="0.7" fill="none"/>
<path d="M537.6,92.5v5h3" stroke="#333" stroke-width="0.7" fill="none"/><g fill="#fff" stroke="#111" stroke-width="0.8">
<rect x="417.7" y="219.8" width="4.0" height="7.0" transform="rotate(12 419.7 223.2)"/>
<rect x="485.8" y="223.3" width="7.0" height="4.9" transform="rotate(12 489.3 225.7)"/>
<rect x="477.7" y="230.1" width="6.8" height="4.6" transform="rotate(8 481.2 232.4)"/>
<rect x="511.0" y="219.9" width="5.6" height="4.5" transform="rotate(5 513.8 222.2)"/>
<rect x="582.1" y="235.6" width="6.8" height="3.6" transform="rotate(8 585.5 237.4)"/>
<rect x="547.3" y="243.1" width="4.1" height="7.5" transform="rotate(12 549.3 246.8)"/>
<rect x="584.0" y="249.8" width="8.2" height="4.9" transform="rotate(5 588.2 252.2)"/>
<rect x="428.4" y="223.7" width="3.8" height="6.5" transform="rotate(12 430.3 226.9)"/>
<rect x="493.4" y="235.6" width="6.4" height="5.0" transform="rotate(12 496.6 238.1)"/>
<rect x="564.5" y="235.0" width="3.6" height="6.2" transform="rotate(12 566.3 238.1)"/>
<rect x="475.1" y="216.6" width="4.6" height="7.5" transform="rotate(10 477.3 220.4)"/>
<rect x="406.8" y="217.4" width="6.0" height="4.8" transform="rotate(10 409.8 219.8)"/>
<rect x="489.1" y="216.2" width="7.6" height="5.0" transform="rotate(12 492.9 218.7)"/>
<rect x="522.5" y="222.9" width="5.5" height="3.9" transform="rotate(8 525.3 224.8)"/>
<rect x="513.4" y="234.8" width="8.1" height="4.9" transform="rotate(8 517.4 237.3)"/>
<rect x="496.0" y="228.4" width="5.7" height="4.8" transform="rotate(8 498.8 230.8)"/>
<rect x="390.3" y="212.9" width="4.1" height="7.3" transform="rotate(8 392.3 216.5)"/>
<rect x="426.8" y="211.2" width="4.8" height="8.3" transform="rotate(5 429.2 215.4)"/>
<rect x="441.4" y="213.7" width="4.1" height="5.7" transform="rotate(8 443.4 216.5)"/>
<rect x="442.3" y="226.0" width="4.5" height="6.4" transform="rotate(10 444.6 229.2)"/>
<rect x="454.3" y="218.2" width="4.0" height="6.3" transform="rotate(8 456.3 221.4)"/>
<rect x="561.2" y="246.5" width="4.6" height="6.9" transform="rotate(5 563.4 249.9)"/>
<rect x="451.0" y="227.3" width="8.3" height="4.6" transform="rotate(12 455.1 229.7)"/>
<rect x="505.6" y="234.5" width="3.9" height="8.2" transform="rotate(12 507.5 238.6)"/>
<rect x="568.5" y="247.0" width="6.1" height="4.1" transform="rotate(8 571.6 249.1)"/>
<rect x="528.9" y="237.6" width="4.1" height="8.1" transform="rotate(12 530.9 241.7)"/>
<rect x="547.4" y="234.8" width="5.6" height="3.8" transform="rotate(8 550.2 236.7)"/>
<rect x="573.4" y="237.7" width="4.2" height="6.3" transform="rotate(5 575.5 240.8)"/>
<rect x="560.7" y="221.9" width="3.7" height="5.8" transform="rotate(5 562.5 224.9)"/>
<rect x="535.4" y="227.9" width="6.5" height="3.6" transform="rotate(10 538.6 229.7)"/>
<rect x="462.3" y="217.5" width="6.1" height="4.1" transform="rotate(10 465.3 219.5)"/>
<rect x="587.2" y="227.0" width="7.9" height="4.4" transform="rotate(10 591.1 229.2)"/>
<rect x="415.7" y="212.1" width="4.6" height="7.8" transform="rotate(8 418.0 216.1)"/>
<rect x="570.3" y="226.6" width="4.8" height="6.4" transform="rotate(10 572.7 229.9)"/>
<rect x="743.3" y="272.0" width="5.8" height="4.8" transform="rotate(10 746.2 274.4)"/>
<rect x="649.4" y="241.2" width="7.5" height="5.0" transform="rotate(12 653.2 243.7)"/>
<rect x="724.0" y="265.7" width="4.1" height="8.3" transform="rotate(10 726.1 269.9)"/>
<rect x="666.0" y="259.3" width="4.2" height="8.2" transform="rotate(8 668.0 263.4)"/>
<rect x="690.7" y="249.3" width="6.5" height="3.8" transform="rotate(10 694.0 251.2)"/>
<rect x="641.7" y="255.1" width="4.6" height="8.2" transform="rotate(10 644.0 259.2)"/>
<rect x="721.8" y="256.2" width="4.9" height="6.0" transform="rotate(12 724.2 259.2)"/>
<rect x="712.3" y="255.6" width="4.3" height="8.3" transform="rotate(10 714.4 259.7)"/>
<rect x="737.0" y="258.3" width="4.4" height="6.9" transform="rotate(8 739.2 261.8)"/>
<rect x="698.2" y="262.1" width="6.4" height="4.7" transform="rotate(12 701.4 264.4)"/>
<rect x="685.7" y="262.2" width="3.7" height="8.0" transform="rotate(5 687.6 266.1)"/>
<rect x="716.3" y="248.8" width="4.0" height="6.2" transform="rotate(5 718.3 251.9)"/>
<rect x="653.2" y="254.9" width="3.7" height="8.2" transform="rotate(5 655.1 259.0)"/>
<rect x="624.7" y="241.3" width="5.6" height="3.8" transform="rotate(5 627.5 243.2)"/>
<rect x="620.2" y="249.7" width="6.3" height="4.7" transform="rotate(8 623.3 252.1)"/>
<rect x="745.9" y="252.9" width="4.5" height="7.7" transform="rotate(10 748.1 256.8)"/>
<rect x="660.6" y="238.9" width="7.8" height="4.6" transform="rotate(10 664.5 241.2)"/>
<rect x="675.5" y="261.5" width="7.3" height="4.2" transform="rotate(10 679.1 263.6)"/>
<rect x="673.5" y="240.0" width="3.8" height="5.7" transform="rotate(5 675.4 242.9)"/>
<rect x="634.3" y="237.7" width="6.2" height="4.9" transform="rotate(5 637.4 240.1)"/>
<rect x="631.8" y="251.7" width="5.8" height="3.9" transform="rotate(8 634.7 253.6)"/>
<rect x="616.9" y="231.3" width="7.7" height="3.9" transform="rotate(12 620.7 233.3)"/>
<rect x="641.9" y="249.1" width="6.9" height="4.7" transform="rotate(12 645.4 251.4)"/>
<rect x="661.2" y="247.6" width="5.8" height="4.5" transform="rotate(12 664.2 249.8)"/>
<rect x="681.8" y="250.6" width="7.9" height="4.0" transform="rotate(12 685.7 252.6)"/>
<rect x="673.2" y="251.1" width="4.2" height="6.0" transform="rotate(10 675.3 254.0)"/>
<rect x="746.1" y="260.9" width="4.8" height="6.5" transform="rotate(8 748.6 264.2)"/>
<rect x="699.5" y="252.6" width="5.0" height="7.4" transform="rotate(5 702.0 256.3)"/>
<rect x="702.0" y="246.2" width="8.0" height="4.4" transform="rotate(10 706.0 248.4)"/>
<rect x="652.8" y="249.8" width="6.3" height="4.2" transform="rotate(8 656.0 251.9)"/>
<rect x="734.8" y="269.5" width="4.4" height="5.6" transform="rotate(10 737.0 272.3)"/>
<rect x="736.0" y="250.9" width="3.9" height="7.6" transform="rotate(5 737.9 254.7)"/>
<rect x="711.2" y="267.5" width="3.8" height="6.8" transform="rotate(8 713.1 270.9)"/>
<rect x="626.7" y="231.9" width="4.2" height="5.9" transform="rotate(5 628.8 234.8)"/>
<rect x="392.7" y="248.0" width="7.3" height="4.5" transform="rotate(5 396.4 250.3)"/>
<rect x="442.8" y="261.5" width="7.2" height="3.9" transform="rotate(12 446.4 263.5)"/>
<rect x="433.5" y="256.6" width="8.1" height="3.9" transform="rotate(8 437.6 258.6)"/>
<rect x="479.8" y="257.5" width="4.5" height="5.7" transform="rotate(5 482.1 260.4)"/>
<rect x="402.8" y="236.9" width="4.3" height="7.7" transform="rotate(12 405.0 240.7)"/>
<rect x="457.2" y="261.8" width="7.9" height="4.2" transform="rotate(8 461.1 263.9)"/>
<rect x="380.4" y="236.6" width="4.2" height="7.4" transform="rotate(10 382.5 240.3)"/>
<rect x="419.1" y="258.2" width="4.3" height="6.7" transform="rotate(8 421.3 261.6)"/>
<rect x="488.1" y="260.8" width="4.5" height="6.0" transform="rotate(10 490.3 263.8)"/>
<rect x="370.8" y="248.4" width="3.7" height="7.9" transform="rotate(12 372.6 252.4)"/>
<rect x="418.4" y="250.2" width="7.3" height="4.7" transform="rotate(12 422.1 252.5)"/>
<rect x="459.2" y="252.3" width="5.0" height="7.0" transform="rotate(5 461.7 255.8)"/>
<rect x="442.2" y="246.4" width="6.7" height="4.5" transform="rotate(8 445.6 248.6)"/>
<rect x="406.2" y="246.9" width="8.1" height="4.1" transform="rotate(12 410.2 249.0)"/>
<rect x="447.3" y="252.6" width="4.1" height="7.6" transform="rotate(12 449.3 256.4)"/>
<rect x="364.5" y="230.7" width="4.9" height="6.3" transform="rotate(12 367.0 233.8)"/>
<rect x="404.5" y="255.5" width="4.8" height="6.5" transform="rotate(5 406.9 258.8)"/>
<rect x="470.5" y="255.2" width="6.4" height="4.7" transform="rotate(10 473.7 257.6)"/>
<rect x="365.4" y="239.6" width="6.9" height="4.8" transform="rotate(12 368.8 241.9)"/>
<rect x="435.6" y="261.9" width="4.8" height="8.4" transform="rotate(5 438.0 266.1)"/>
<rect x="394.4" y="255.6" width="7.8" height="4.1" transform="rotate(8 398.3 257.7)"/>
<rect x="377.9" y="253.5" width="7.2" height="4.2" transform="rotate(10 381.5 255.6)"/>
<rect x="430.7" y="244.6" width="8.0" height="4.8" transform="rotate(8 434.7 247.0)"/>
<rect x="417.7" y="241.4" width="6.3" height="4.4" transform="rotate(12 420.9 243.6)"/>
<rect x="391.3" y="238.3" width="6.5" height="5.0" transform="rotate(10 394.5 240.8)"/>
<rect x="426.3" y="258.3" width="6.4" height="3.7" transform="rotate(8 429.5 260.2)"/>
<rect x="496.7" y="257.6" width="4.3" height="8.0" transform="rotate(5 498.8 261.6)"/>
<rect x="469.8" y="261.0" width="4.3" height="7.8" transform="rotate(5 472.0 264.9)"/>
<rect x="384.5" y="246.0" width="7.0" height="4.1" transform="rotate(12 388.0 248.1)"/>
<rect x="360.4" y="248.5" width="7.4" height="4.0" transform="rotate(12 364.1 250.5)"/>
<rect x="528.8" y="263.2" width="6.0" height="3.7" transform="rotate(12 531.8 265.0)"/>
<rect x="556.3" y="267.6" width="3.7" height="7.1" transform="rotate(10 558.1 271.2)"/>
<rect x="518.5" y="260.7" width="4.8" height="7.9" transform="rotate(10 520.9 264.7)"/>
<rect x="580.1" y="279.8" width="7.3" height="4.5" transform="rotate(8 583.8 282.1)"/>
<rect x="517.3" y="269.9" width="4.4" height="6.4" transform="rotate(10 519.5 273.1)"/>
<rect x="557.9" y="275.2" width="4.3" height="6.7" transform="rotate(10 560.1 278.6)"/>
<rect x="544.2" y="266.3" width="7.9" height="3.7" transform="rotate(5 548.2 268.1)"/>
<rect x="548.6" y="274.8" width="4.5" height="7.6" transform="rotate(8 550.9 278.6)"/>
<rect x="592.7" y="273.4" width="6.1" height="4.5" transform="rotate(10 595.8 275.7)"/>
<rect x="582.4" y="270.3" width="4.0" height="5.6" transform="rotate(10 584.4 273.1)"/>
<rect x="568.3" y="276.1" width="4.6" height="8.4" transform="rotate(5 570.6 280.3)"/>
<rect x="566.7" y="267.1" width="4.9" height="6.4" transform="rotate(10 569.1 270.3)"/>
<rect x="536.8" y="262.7" width="6.0" height="4.7" transform="rotate(10 539.8 265.1)"/>
<rect x="534.7" y="273.4" width="3.9" height="6.1" transform="rotate(12 536.6 276.4)"/>
<rect x="720.5" y="303.4" width="6.3" height="3.6" transform="rotate(12 723.7 305.2)"/>
<rect x="744.5" y="304.6" width="5.6" height="4.3" transform="rotate(8 747.3 306.8)"/>
<rect x="712.7" y="293.7" width="4.6" height="6.1" transform="rotate(10 715.0 296.7)"/>
<rect x="702.4" y="296.5" width="6.8" height="5.0" transform="rotate(10 705.8 299.0)"/>
<rect x="672.3" y="283.8" width="7.4" height="4.0" transform="rotate(5 676.0 285.8)"/>
<rect x="693.6" y="286.2" width="4.1" height="8.3" transform="rotate(8 695.6 290.3)"/>
<rect x="616.9" y="279.4" width="4.0" height="7.3" transform="rotate(5 618.9 283.0)"/>
<rect x="643.1" y="287.3" width="4.8" height="7.1" transform="rotate(8 645.5 290.8)"/>
<rect x="748.1" y="293.1" width="7.7" height="4.2" transform="rotate(12 752.0 295.1)"/>
<rect x="646.3" y="294.0" width="4.5" height="8.2" transform="rotate(12 648.6 298.1)"/>
<rect x="741.8" y="292.7" width="4.2" height="7.7" transform="rotate(8 743.9 296.6)"/>
<rect x="657.7" y="287.9" width="4.9" height="6.8" transform="rotate(12 660.1 291.3)"/>
<rect x="722.8" y="292.3" width="5.0" height="8.3" transform="rotate(12 725.2 296.5)"/>
<rect x="683.6" y="284.4" width="6.6" height="4.9" transform="rotate(8 686.9 286.9)"/>
<rect x="625.3" y="287.3" width="8.2" height="4.5" transform="rotate(8 629.4 289.6)"/>
<rect x="671.6" y="291.7" width="7.2" height="4.8" transform="rotate(10 675.2 294.1)"/>
<rect x="663.4" y="279.5" width="4.7" height="8.3" transform="rotate(12 665.8 283.7)"/>
<rect x="710.5" y="302.8" width="7.5" height="3.8" transform="rotate(5 714.2 304.7)"/>
<rect x="706.2" y="285.6" width="5.0" height="6.8" transform="rotate(10 708.7 289.0)"/>
<rect x="644.6" y="278.7" width="3.9" height="7.5" transform="rotate(12 646.5 282.5)"/>
<rect x="654.4" y="278.9" width="4.7" height="8.3" transform="rotate(5 656.8 283.0)"/>
<rect x="636.1" y="275.6" width="4.8" height="7.2" transform="rotate(10 638.5 279.2)"/>
<rect x="729.8" y="300.9" width="4.0" height="7.0" transform="rotate(10 731.8 304.4)"/>
<rect x="625.3" y="276.2" width="6.5" height="4.2" transform="rotate(12 628.5 278.2)"/>
<rect x="614.3" y="288.9" width="5.6" height="3.6" transform="rotate(5 617.2 290.8)"/>
<rect x="684.2" y="292.2" width="4.1" height="5.9" transform="rotate(5 686.3 295.2)"/>
<rect x="562.9" y="194.1" width="4.9" height="7.7" transform="rotate(5 565.4 198.0)"/>
<rect x="575.6" y="197.4" width="5.7" height="3.8" transform="rotate(10 578.4 199.3)"/>
<rect x="553.9" y="189.3" width="4.4" height="5.5" transform="rotate(8 556.1 192.1)"/>
<rect x="571.6" y="188.9" width="4.2" height="5.9" transform="rotate(5 573.7 191.8)"/>
<rect x="538.2" y="187.3" width="4.8" height="6.4" transform="rotate(8 540.6 190.4)"/>
<rect x="537.8" y="194.1" width="5.0" height="8.2" transform="rotate(10 540.3 198.2)"/>
<rect x="527.3" y="188.4" width="4.0" height="6.5" transform="rotate(5 529.3 191.7)"/>
<rect x="358.0" y="330.5" width="10.0" height="5.0" transform="rotate(-25 363.0 333.0)"/>
<rect x="370.6" y="338.1" width="4.0" height="7.0" transform="rotate(0 372.6 341.6)"/>
<rect x="427.0" y="288.2" width="6.0" height="3.5" transform="rotate(8 430.0 290.0)"/>
<rect x="437.0" y="294.2" width="6.0" height="3.5" transform="rotate(8 440.0 296.0)"/>
<rect x="432.2" y="277.0" width="3.5" height="6.0" transform="rotate(8 434.0 280.0)"/>
</g>
<circle cx="557.8" cy="244.8" r="1.2" fill="none" stroke="#222" stroke-width="0.5"/>
<circle cx="441.6" cy="257.3" r="1.2" fill="none" stroke="#222" stroke-width="0.5"/>
<circle cx="713.6" cy="251.5" r="1.2" fill="none" stroke="#222" stroke-width="0.5"/>
<circle cx="643.8" cy="262.4" r="1.2" fill="none" stroke="#222" stroke-width="0.5"/>
<circle cx="651.6" cy="245.1" r="1.2" fill="none" stroke="#222" stroke-width="0.5"/>
<circle cx="477.2" cy="220.4" r="1.2" fill="none" stroke="#222" stroke-width="0.5"/>
<circle cx="573.2" cy="282.1" r="1.2" fill="none" stroke="#222" stroke-width="0.5"/>
<circle cx="669.2" cy="262.0" r="1.2" fill="none" stroke="#222" stroke-width="0.5"/>
<circle cx="659.1" cy="242.8" r="1.2" fill="none" stroke="#222" stroke-width="0.5"/>
<circle cx="496.2" cy="255.5" r="1.2" fill="none" stroke="#222" stroke-width="0.5"/>
<circle cx="651.8" cy="261.7" r="1.2" fill="none" stroke="#222" stroke-width="0.5"/>
<circle cx="423.4" cy="224.3" r="1.2" fill="none" stroke="#222" stroke-width="0.5"/>
<circle cx="467.1" cy="229.1" r="1.2" fill="none" stroke="#222" stroke-width="0.5"/>
<circle cx="681.8" cy="252.9" r="1.2" fill="none" stroke="#222" stroke-width="0.5"/>
<circle cx="709.3" cy="298.3" r="1.2" fill="none" stroke="#222" stroke-width="0.5"/>
<circle cx="568.0" cy="223.7" r="1.2" fill="none" stroke="#222" stroke-width="0.5"/>
<circle cx="544.1" cy="276.7" r="1.2" fill="none" stroke="#222" stroke-width="0.5"/>
<circle cx="712.5" cy="258.6" r="1.2" fill="none" stroke="#222" stroke-width="0.5"/>
<circle cx="395.0" cy="213.8" r="1.2" fill="none" stroke="#222" stroke-width="0.5"/>
<circle cx="585.2" cy="225.4" r="1.2" fill="none" stroke="#222" stroke-width="0.5"/>
<circle cx="721.7" cy="273.1" r="1.2" fill="none" stroke="#222" stroke-width="0.5"/>
<circle cx="735.1" cy="254.2" r="1.2" fill="none" stroke="#222" stroke-width="0.5"/>
<circle cx="445.5" cy="226.3" r="1.2" fill="none" stroke="#222" stroke-width="0.5"/>
<circle cx="748.2" cy="310.6" r="1.2" fill="none" stroke="#222" stroke-width="0.5"/>
<circle cx="435.4" cy="247.9" r="1.2" fill="none" stroke="#222" stroke-width="0.5"/>
<circle cx="732.4" cy="264.3" r="1.2" fill="none" stroke="#222" stroke-width="0.5"/><ellipse cx="562" cy="125" rx="23.4" ry="20.7" fill="none" stroke="#000" stroke-width="1.9"/>
<circle cx="408.5" cy="322.2" r="32" fill="none" stroke="#000" stroke-width="2"/>
<ellipse cx="563.3" cy="296" rx="33" ry="26.4" fill="none" stroke="#000" stroke-width="2"/>
<ellipse cx="462" cy="433.5" rx="28.4" ry="20.2" fill="none" stroke="#000" stroke-width="1.9"/>
<line x1="342.5" y1="124.6" x2="536.0" y2="124.6" stroke="#000" stroke-width="1.9"/><polygon points="539.0,124.6 527.5,129.1 530.7,124.6 527.5,120.1" fill="#000"/><polygon points="339.5,124.6 351.0,120.1 347.8,124.6 351.0,129.1" fill="#000"/>
<line x1="342.5" y1="321.5" x2="373.3" y2="321.5" stroke="#000" stroke-width="1.9"/><polygon points="376.3,321.5 366.3,326.0 369.1,321.5 366.3,317.0" fill="#000"/><polygon points="339.5,321.5 349.5,317.0 346.7,321.5 349.5,326.0" fill="#000"/>
<line x1="483.0" y1="413.7" x2="548.7" y2="319.5" stroke="#000" stroke-width="1.9"/><polygon points="550.4,317.0 547.5,329.0 545.7,323.8 540.1,323.9" fill="#000"/><polygon points="481.3,416.2 484.2,404.2 486.0,409.4 491.6,409.3" fill="#000"/>
<path d="M688.5,380.5V428.5M663.5,404.7H713" stroke="#000" stroke-width="1.4" fill="none"/>
<polyline points="692.5,387.8 688.5,379.8 684.5,387.8" fill="none" stroke="#000" stroke-width="1.3"/>
<polyline points="684.5,421.0 688.5,429.0 692.5,421.0" fill="none" stroke="#000" stroke-width="1.3"/>
<polyline points="671.0,400.7 663.0,404.7 671.0,408.7" fill="none" stroke="#000" stroke-width="1.3"/>
<polyline points="705.5,408.7 713.5,404.7 705.5,400.7" fill="none" stroke="#000" stroke-width="1.3"/>
<text x="685" y="374.4" font-family="'Liberation Sans',Arial,sans-serif" font-size="14.7" font-weight="700" fill="#000" textLength="7.6" lengthAdjust="spacingAndGlyphs" >С</text>
<text x="683.9" y="446" font-family="'Liberation Sans',Arial,sans-serif" font-size="14.7" font-weight="700" fill="#000" textLength="12" lengthAdjust="spacingAndGlyphs" >Ю</text>
<text x="652" y="409.8" font-family="'Liberation Sans',Arial,sans-serif" font-size="14.7" font-weight="700" fill="#000" textLength="8.2" lengthAdjust="spacingAndGlyphs" >З</text>
<text x="717" y="409.8" font-family="'Liberation Sans',Arial,sans-serif" font-size="14.7" font-weight="700" fill="#000" textLength="8.2" lengthAdjust="spacingAndGlyphs" >В</text>
<text x="452" y="188.7" font-family="'Liberation Serif','Times New Roman',serif" font-size="24.5" font-weight="400" fill="#000" textLength="71.5" lengthAdjust="spacingAndGlyphs" >Заречье</text>
<text x="540" y="128.3" font-family="'Liberation Serif','Times New Roman',serif" font-size="13.5" font-weight="400" fill="#000" textLength="29" lengthAdjust="spacingAndGlyphs" >160,6</text>
<text x="686.3" y="133.8" font-family="'Liberation Serif','Times New Roman',serif" font-size="13" font-weight="400" fill="#000" textLength="28.7" lengthAdjust="spacingAndGlyphs" >162,4</text>
<circle cx="687.2" cy="138" r="1.1" fill="#000"/>
<text x="654.7" y="102.8" font-family="'Liberation Serif','Times New Roman',serif" font-size="12.5" font-weight="400" fill="#000" textLength="18.7" lengthAdjust="spacingAndGlyphs" >пес.</text>
<text x="668.6" y="118.8" font-family="'Liberation Serif','Times New Roman',serif" font-size="13" font-weight="400" fill="#000" >5</text>
<text x="459.8" y="311.5" font-family="'Liberation Serif','Times New Roman',serif" font-size="13" font-weight="400" fill="#000" textLength="31.5" lengthAdjust="spacingAndGlyphs" >155,6.</text>
<text x="541" y="388.2" font-family="'Liberation Serif','Times New Roman',serif" font-size="13" font-weight="400" fill="#000" textLength="29.3" lengthAdjust="spacingAndGlyphs" >157,3</text>
<circle cx="537.5" cy="383" r="1.1" fill="#000"/>
<text x="665.7" y="307.4" font-family="'Liberation Serif','Times New Roman',serif" font-size="12.8" font-weight="400" fill="#000" textLength="28.4" lengthAdjust="spacingAndGlyphs" >158,3</text>
<text x="719.7" y="371" font-family="'Liberation Serif','Times New Roman',serif" font-size="13" font-weight="400" fill="#555" textLength="28.8" lengthAdjust="spacingAndGlyphs" >154,7</text>
<text x="363.9" y="441.7" font-family="'Liberation Serif','Times New Roman',serif" font-size="13" font-weight="400" fill="#000" textLength="28.6" lengthAdjust="spacingAndGlyphs" >158,3</text>
<text x="535" y="456.5" font-family="'Liberation Serif','Times New Roman',serif" font-size="13" font-weight="400" fill="#000" textLength="31" lengthAdjust="spacingAndGlyphs" >158,6</text>
<text x="381.8" y="310.7" font-family="'Liberation Serif','Times New Roman',serif" font-size="12.5" font-weight="400" fill="#000" textLength="18.6" lengthAdjust="spacingAndGlyphs" >сил.</text>
<text x="385.2" y="345.9" font-family="'Liberation Serif','Times New Roman',serif" font-size="12.5" font-weight="400" fill="#000" textLength="41" lengthAdjust="spacingAndGlyphs" >скот. дв.</text>
<text x="535.3" y="295" font-family="'Liberation Serif','Times New Roman',serif" font-size="12.5" font-weight="400" fill="#000" textLength="31.3" lengthAdjust="spacingAndGlyphs" >прист.</text>
<text x="580" y="319" font-family="'Liberation Serif','Times New Roman',serif" font-size="12" font-weight="400" fill="#000" textLength="16.5" lengthAdjust="spacingAndGlyphs" >пар.</text>
<text x="452.6" y="322" font-family="'Liberation Serif','Times New Roman',serif" font-size="12" font-weight="400" fill="#777" textLength="11.5" lengthAdjust="spacingAndGlyphs" >пр.</text>
<text x="459.8" y="434.8" font-family="'Liberation Serif','Times New Roman',serif" font-size="12.8" font-weight="400" fill="#000" textLength="25" lengthAdjust="spacingAndGlyphs" >лесн.</text>
<text x="380.3" y="465.9" font-family="'Liberation Serif','Times New Roman',serif" font-size="12.8" font-weight="400" fill="#000" textLength="17.5" lengthAdjust="spacingAndGlyphs" >ель</text>
<text x="378" y="475.7" font-family="'Liberation Serif','Times New Roman',serif" font-size="12.8" font-weight="400" fill="#000" textLength="20.5" lengthAdjust="spacingAndGlyphs" >бер.</text>
<text x="583" y="464" font-family="'Liberation Serif','Times New Roman',serif" font-size="11.5" font-weight="400" fill="#000" textLength="13" lengthAdjust="spacingAndGlyphs" >ст.</text>
<text x="494.2" y="364" font-family="'Liberation Sans',Arial,sans-serif" font-size="14.6" font-weight="400" fill="#000" textLength="15.2" lengthAdjust="spacingAndGlyphs" >СВ</text>
<text x="0" y="0" font-family="'Liberation Serif','Times New Roman',serif" font-size="10.2" font-weight="400" fill="#333" textLength="72.8" lengthAdjust="spacingAndGlyphs" font-style="italic" transform="translate(616.6,322.4) rotate(19.5)">КАМЫШОВКА</text>
<text x="0" y="0" font-family="'Liberation Sans',Arial,sans-serif" font-size="7.2" font-weight="400" fill="#222" textLength="57" lengthAdjust="spacingAndGlyphs" transform="translate(510,253.5) rotate(8.5)">УЛ. КРИНИЧНАЯ</text>
<text x="0" y="0" font-family="'Liberation Serif','Times New Roman',serif" font-size="11" font-weight="400" fill="#222" textLength="17" lengthAdjust="spacingAndGlyphs" font-style="italic" transform="translate(687,181) rotate(48)">160</text>
<text x="589.5" y="250" font-family="'Liberation Serif','Times New Roman',serif" font-size="10.5" font-weight="400" fill="#444" textLength="9" lengthAdjust="spacingAndGlyphs" >К.</text>
<circle cx="585.3" cy="245.6" r="3" fill="#fff" stroke="#444" stroke-width="0.6"/><circle cx="585.3" cy="245.6" r="1" fill="#444"/>
<rect x="383.5" y="315.5" width="12" height="5" fill="#000" transform="rotate(-20 389.5 318)"/>
<rect x="409.5" y="321.5" width="7.5" height="12.5" fill="#000" transform="rotate(-28 413 328)"/>
<rect x="415" y="327" width="5" height="8.5" fill="#000" transform="rotate(-28 417 331)"/>
<circle cx="408.2" cy="315.8" r="2.4" fill="#000"/>
<path d="M406.6,313.5 L407,300.5 L409.8,313.5" fill="#fff" stroke="#000" stroke-width="0.8"/>
<rect x="564" y="280.5" width="12.5" height="3.6" fill="#000" transform="rotate(12 570 282)"/>
<rect x="568.5" y="277.5" width="4.5" height="3.5" fill="#000" transform="rotate(12 570 279)"/>
<rect x="582" y="284" width="8.8" height="5" fill="#fff" stroke="#000" stroke-width="0.9" transform="rotate(-38 586.4 286.5)"/>
<rect x="574.4" y="300.8" width="5.2" height="9" fill="#fff" stroke="#000" stroke-width="0.9" transform="rotate(28 577 305.3)"/>
<path d="M447.6,424.4h7.8v21.8h-4.2v-9.4h-3.6z" fill="#fff" stroke="#000" stroke-width="0.9"/>
<rect x="581" y="468" width="21" height="5" fill="#000" transform="rotate(-8 591 470)"/>
<path d="M570.6,129.2 L573.6,115 L576.6,129.2Z" fill="#000"/>
<path d="M570.3,113.3 L577,119.3 M577,113.600 L570.5,119.600" stroke="#000" stroke-width="0.8"/>
<path d="M403.8,462v12M401.3,465h5M400.8,468.5h6M401.5,472h4.6" stroke="#000" stroke-width="0.8" fill="none"/>
<path d="M413,461.5 c-4,5 -3.5,9 0,10 c3.500,-1 4,-5 0,-10z M413,471v3.500 M410.5,474.5h5" stroke="#000" stroke-width="0.8" fill="#000"/>
</g>
<rect x="338.8" y="91" width="416.4" height="391.8" fill="none" stroke="#111" stroke-width="1.6"/>
</svg>
<svg width="767" height="1000" viewBox="0 0 767 1000">
<defs><filter id="sh" x="-10%" y="-10%" width="130%" height="140%"><feGaussianBlur stdDeviation="1.6"/></filter></defs>
<path d="M48.3,161 L281.3,161 Q289.3,161 289.3,169 L289.3,266.3 L308,279.7 L289.3,293 L289.3,309.3 Q289.3,317.3 281.3,317.3 L48.3,317.3 Q40.3,317.3 40.3,309.3 L40.3,169 Q40.3,161 48.3,161Z" transform="translate(3.6,4)" fill="#3a3a3a" opacity="0.75" filter="url(#sh)"/>
<path d="M48.8,401.3 L283.6,401.3 Q291.6,401.3 291.6,409.3 L291.6,452.8 L425.5,441.3 L291.6,479.5 L291.6,516 Q291.6,524 283.6,524 L48.8,524 Q40.8,524 40.8,516 L40.8,409.3 Q40.8,401.3 48.8,401.3Z" transform="translate(3.6,4)" fill="#3a3a3a" opacity="0.75" filter="url(#sh)"/>
<path d="M474.4,475.8 L608.3,475.8 L738.5,443 L664.7,475.8 L710.4,475.8 Q718.4,475.8 718.4,483.8 L718.4,529 Q718.4,537 710.4,537 L474.4,537 Q466.4,537 466.4,529 L466.4,483.8 Q466.4,475.8 474.4,475.8Z" transform="translate(3.6,4)" fill="#3a3a3a" opacity="0.75" filter="url(#sh)"/>
<path d="M48.3,161 L281.3,161 Q289.3,161 289.3,169 L289.3,266.3 L308,279.7 L289.3,293 L289.3,309.3 Q289.3,317.3 281.3,317.3 L48.3,317.3 Q40.3,317.3 40.3,309.3 L40.3,169 Q40.3,161 48.3,161Z" fill="#fff" stroke="#111" stroke-width="1.7" stroke-linejoin="round"/>
<path d="M48.8,401.3 L283.6,401.3 Q291.6,401.3 291.6,409.3 L291.6,452.8 L425.5,441.3 L291.6,479.5 L291.6,516 Q291.6,524 283.6,524 L48.8,524 Q40.8,524 40.8,516 L40.8,409.3 Q40.8,401.3 48.8,401.3Z" fill="#fff" stroke="#111" stroke-width="1.7" stroke-linejoin="round"/>
<path d="M474.4,475.8 L608.3,475.8 L738.5,443 L664.7,475.8 L710.4,475.8 Q718.4,475.8 718.4,483.8 L718.4,529 Q718.4,537 710.4,537 L474.4,537 Q466.4,537 466.4,529 L466.4,483.8 Q466.4,475.8 474.4,475.8Z" fill="#fff" stroke="#111" stroke-width="1.7" stroke-linejoin="round"/>
<text transform="translate(328.8,389.4) rotate(-90)" font-family="'Liberation Serif','Times New Roman',serif" font-size="20" textLength="196" lengthAdjust="spacingAndGlyphs" fill="#111" stroke="#111" stroke-width="0.25">Западная рамка плана</text>
<g stroke="#8a8a8a" stroke-width="0.5" stroke-linejoin="round">
<path d="M57.500,80 Q55.500,68 64,63 Q73,59.500 81,64.500 Q86,69 85,76 L83,74.500 Q77,71 70,72.500 Q67,77 67,84 Q66,88 64.500,89 Q59,87 57.500,80Z" fill="#f4f4f4" stroke="#c9c9c9"/>
<path d="M70,72.500 Q77,71 83,74.500 Q85.500,79 84.500,83.500 L86,86 L84.500,87 Q84,91 79,92.500 Q73,93 69,90 Q66.500,86 67,82 Q67,76 70,72.500Z" fill="#cdcdcd"/>
<ellipse cx="66.800" cy="83.300" rx="1.900" ry="2.900" fill="#d2d2d2"/>
<ellipse cx="77.600" cy="82.400" rx="1.300" ry="1.700" fill="#2a2a2a" stroke="none"/>
<path d="M71,78.300 Q74,77.200 77,78.300" fill="none" stroke="#666" stroke-width="0.6"/>
<path d="M66,93 Q72,91 77,95 Q82,101 83,110 Q78,113.500 69,112.500 Q66,103 66,93Z" fill="#d4d4d4"/>
<path d="M67,92.500 Q72,95.500 76.500,94" fill="none" stroke="#777" stroke-width="0.7"/>
<path d="M65.500,94 Q61.500,97 63,102.500 L68.500,101.500Z" fill="#c2c2c2"/>
<path d="M64,101.500 Q62,108 60,113 L57.500,112.500 L59,115 L60.500,117.500 L62,115 L63.500,114 Q66,108 67.500,102Z" fill="#e2e2e2"/>
<path d="M80,98 Q85,104 89,106 L94.500,104 L92.500,107 L94.500,109.500 L88,110 Q82,106.500 79,101Z" fill="#e2e2e2"/>
<path d="M69,111.500 L82.500,110 Q88,118 93.500,126 L87,131.500 Q82,124 77,119 Q73,127 70.500,135 L63,134 Q65,122 69,111.500Z" fill="#8c8c8c" stroke="#666"/>
<path d="M69,112.500 Q66,123 63,134 L66.300,134.500 Q70,123 73,114Z" fill="#6a6a6a" stroke="none"/>
<path d="M62.500,134.500 L71,135.500 Q77,136.500 77.500,139 Q70,141.200 62,139.700Z" fill="#e6e6e6" stroke="#8a8a8a"/>
<path d="M62.200,138.300 Q70,140 77.500,138.300" fill="none" stroke="#888" stroke-width="0.8"/>
<path d="M88,130.500 L94,124.500 Q98,121.500 100.500,123 Q98.500,131 92.500,136.800Z" fill="#e6e6e6" stroke="#8a8a8a"/>
<path d="M92.500,136.800 Q97.500,131 100.300,124" fill="none" stroke="#888" stroke-width="0.9"/>
</g>
<g stroke="#555" stroke-width="0.5" stroke-linejoin="round">
<path d="M64,566.500 Q65.500,553 73,549 Q80,548 82,556 Q78,562 76,569 Q70,564.500 64,566.500Z" fill="#5c5c5c"/>
<path d="M96,551 Q103.500,556 103,570.500 Q98,571.500 95,567 Q97,559 96,551Z" fill="#5c5c5c"/>
<path d="M74,560 Q78,546 88,546 Q97,547 98.500,558 Q98,565 95.500,568 Q90,560 82,562 L80,573 Q74,568 74,560Z" fill="#686868"/>
<path d="M80.500,561.500 Q86,558 92.500,560.500 Q95.500,565 94.500,570 L95.800,572.500 L94,573.500 Q92,577.500 86,577.500 Q80.500,575.500 78.500,569.500 Q78.500,564 80.500,561.500Z" fill="#d6d6d6" stroke="#888"/>
<ellipse cx="79.800" cy="566.500" rx="1.900" ry="2.900" fill="#dadada" stroke="#888"/>
<ellipse cx="90.300" cy="568.500" rx="1.300" ry="1.800" fill="#2a2a2a" stroke="none"/>
<path d="M83,557 Q80,553 82,549.500 Q85,552 84.500,556" fill="#9a9a9a" stroke="none"/>
<path d="M72,580 Q78,575 85,580 Q87,588 84,596.500 L72,597 Q69,588 72,580Z" fill="#6a6a6a"/>
<path d="M78,581 L78.500,592" stroke="#444" stroke-width="0.7" fill="none"/>
<path d="M83,584 Q88,589 92,590 L91,594.500 Q85,594.500 81,590Z" fill="#757575"/>
<ellipse cx="93" cy="588" rx="8.600" ry="4.300" fill="#f4f4f4" stroke="#222" stroke-width="1.300" transform="rotate(-8 93 588)"/>
<path d="M86,591 Q93,594.500 101,589.500" fill="none" stroke="#222" stroke-width="1.600"/>
<path d="M89,588.500 L96.500,586" stroke="#444" stroke-width="1.500"/>
<path d="M71,596 L85,595.500 Q89,600 88.500,604 Q80,607.500 69,604.500 Q69,599 71,596Z" fill="#8a8a8a"/>
<path d="M73,605 L79,605.500 L77,614 L72,613Z M80,606 L85,605 L84,614 L79,614Z" fill="#dcdcdc" stroke="#999"/>
<path d="M66,612 Q71,610 75,613 L76,622 Q70,624.500 67,620 Q64,616 66,612Z" fill="#d0d0d0" stroke="#888"/>
<path d="M76,614 Q82,612 85,616 Q88,619 87.500,622 Q81,624.500 76,622Z" fill="#d0d0d0" stroke="#888"/>
<path d="M67.500,620.500 Q71,623.500 76,622.300 Q81,624 87.500,622" fill="none" stroke="#777" stroke-width="1"/>
</g>
</svg>
<div class="box"></div>
<div class="t" id="h1" style="left:109.40px;top:66.90px;font:700 20px/22.340px 'Liberation Sans', Arial, sans-serif;transform:scaleX(1.0200);letter-spacing:0.097px;">ПОДСКАЗКИ</div>
<div class="t" id="h1b" style="left:109.20px;top:102.91px;font:700 20.3px/22.472px 'Liberation Serif', 'Times New Roman', serif;transform:scaleX(1.0200);word-spacing:-0.425px;-webkit-text-stroke:0.3px #111;">К заданиям 4, 5, 6.</div>
<div class="t" id="h2" style="left:118.10px;top:548.80px;font:700 20px/22.340px 'Liberation Sans', Arial, sans-serif;transform:scaleX(0.9900);letter-spacing:0.092px;">ОБРАЗЦЫ</div>
<div class="t" id="b5_0" style="left:49.20px;top:167.71px;font:400 19px/21.223px 'Liberation Sans', Arial, sans-serif;transform:scaleX(0.8120);word-spacing:-1.670px;-webkit-text-stroke:0.25px #111;"><b>5.</b> Чтобы определить, какой объ-</div>
<div class="t" id="b5_1" style="left:49.20px;top:191.21px;font:400 19px/21.223px 'Liberation Sans', Arial, sans-serif;transform:scaleX(0.8120);word-spacing:0.206px;-webkit-text-stroke:0.25px #111;">ект находится западнее (напри-</div>
<div class="t" id="b5_2" style="left:49.20px;top:214.71px;font:400 19px/21.223px 'Liberation Sans', Arial, sans-serif;transform:scaleX(0.8120);word-spacing:9.357px;-webkit-text-stroke:0.25px #111;">мер, ветряная мельница или</div>
<div class="t" id="b5_3" style="left:49.20px;top:238.21px;font:400 19px/21.223px 'Liberation Sans', Arial, sans-serif;transform:scaleX(0.8120);word-spacing:3.602px;-webkit-text-stroke:0.25px #111;">скотный двор), нужно оценить,</div>
<div class="t" id="b5_4" style="left:49.20px;top:261.70px;font:400 19px/21.223px 'Liberation Sans', Arial, sans-serif;transform:scaleX(0.8120);word-spacing:4.819px;-webkit-text-stroke:0.25px #111;">какой из этих объектов ближе</div>
<div class="t" id="b5_5" style="left:49.20px;top:285.20px;font:400 19px/21.223px 'Liberation Sans', Arial, sans-serif;transform:scaleX(0.8120);word-spacing:0.524px;-webkit-text-stroke:0.25px #111;">к западной рамке плана.</div>
<div class="t" id="b6_0" style="left:50.20px;top:410.41px;font:400 19px/21.223px 'Liberation Sans', Arial, sans-serif;transform:scaleX(0.8530);word-spacing:2.821px;-webkit-text-stroke:0.25px #111;"><b>6.</b> Чтобы определить направ-</div>
<div class="t" id="b6_1" style="left:50.20px;top:431.76px;font:400 19px/21.223px 'Liberation Sans', Arial, sans-serif;transform:scaleX(0.8530);word-spacing:0.785px;-webkit-text-stroke:0.25px #111;">ление движения, нужно найти</div>
<div class="t" id="b6_2" style="left:50.20px;top:453.11px;font:400 19px/21.223px 'Liberation Sans', Arial, sans-serif;transform:scaleX(0.8530);word-spacing:7.196px;-webkit-text-stroke:0.25px #111;">искомые объекты и опреде-</div>
<div class="t" id="b6_3" style="left:50.20px;top:474.46px;font:400 19px/21.223px 'Liberation Sans', Arial, sans-serif;transform:scaleX(0.8530);word-spacing:0.503px;-webkit-text-stroke:0.25px #111;">лить сторону горизонта по на-</div>
<div class="t" id="b6_4" style="left:50.20px;top:495.81px;font:400 19px/21.223px 'Liberation Sans', Arial, sans-serif;transform:scaleX(0.8530);word-spacing:-0.400px;-webkit-text-stroke:0.25px #111;">правлению движения.</div>
<div class="t" id="b4_0" style="left:475.20px;top:482.70px;font:400 19px/21.223px 'Liberation Sans', Arial, sans-serif;transform:scaleX(0.9000);word-spacing:1.131px;-webkit-text-stroke:0.25px #111;"><b>4.</b> Приток впадает в главную</div>
<div class="t" id="b4_1" style="left:475.20px;top:506.31px;font:400 19px/21.223px 'Liberation Sans', Arial, sans-serif;transform:scaleX(0.9000);word-spacing:-0.418px;-webkit-text-stroke:0.25px #111;">реку — Камышовку.</div>
<div class="t" id="s2h" style="left:124.40px;top:586.59px;font:700 19.2px/21.254px 'Liberation Serif', 'Times New Roman', serif;transform:scaleX(1.0470);word-spacing:-0.034px;-webkit-text-stroke:0.2px #111;">Образец выполнения задания 2.</div>
<div class="t" id="s2a" style="left:124.40px;top:609.09px;font:400 19.2px/21.254px 'Liberation Serif', 'Times New Roman', serif;transform:scaleX(1.0800);word-spacing:-0.308px;-webkit-text-stroke:0.2px #111;">1) песчаный карьер</div>
<div class="t" id="s2b" style="left:124.40px;top:631.09px;font:400 19.2px/21.254px 'Liberation Serif', 'Times New Roman', serif;transform:scaleX(1.0950);-webkit-text-stroke:0.2px #111;">2) ЛЭП</div>
<div class="t" id="s2c" style="left:371.40px;top:609.09px;font:400 19.2px/21.254px 'Liberation Serif', 'Times New Roman', serif;transform:scaleX(1.0950);word-spacing:-1.081px;-webkit-text-stroke:0.2px #111;">3) смешанный лес</div>
<div class="t" id="s2d" style="left:371.40px;top:631.09px;font:400 19.2px/21.254px 'Liberation Serif', 'Times New Roman', serif;transform:scaleX(1.0950);word-spacing:-0.009px;-webkit-text-stroke:0.2px #111;">4) ветряная мельница</div>
<div class="t" id="s3h" style="left:124.40px;top:660.39px;font:700 19.2px/21.254px 'Liberation Serif', 'Times New Roman', serif;transform:scaleX(1.0470);word-spacing:-0.034px;-webkit-text-stroke:0.2px #111;">Образец выполнения задания 3.</div>
<div class="t" id="s3a" style="left:124.40px;top:682.39px;font:400 19.2px/21.254px 'Liberation Serif', 'Times New Roman', serif;transform:scaleX(1.0950);word-spacing:2.509px;-webkit-text-stroke:0.2px #111;">Путь лежит вдоль берега реки Камышовки по лугу, заросшему</div>
<div class="t" id="s3b" style="left:124.40px;top:704.79px;font:400 19.2px/21.254px 'Liberation Serif', 'Times New Roman', serif;transform:scaleX(1.0950);letter-spacing:-0.218px;-webkit-text-stroke:0.2px #111;">кустарниками.</div>
<div class="t" id="s4h" style="left:124.40px;top:733.59px;font:700 19.2px/21.254px 'Liberation Serif', 'Times New Roman', serif;transform:scaleX(1.0470);word-spacing:-0.034px;-webkit-text-stroke:0.2px #111;">Образец выполнения задания 4.</div>
<div class="t" id="s4a" style="left:124.40px;top:756.09px;font:400 19.2px/21.254px 'Liberation Serif', 'Times New Roman', serif;transform:scaleX(1.0950);word-spacing:-1.031px;-webkit-text-stroke:0.2px #111;">Приток реки Камышовки течет с юга на север.</div>
<div class="t" id="s5h" style="left:124.40px;top:785.59px;font:700 19.2px/21.254px 'Liberation Serif', 'Times New Roman', serif;transform:scaleX(1.0470);word-spacing:-0.034px;-webkit-text-stroke:0.2px #111;">Образец выполнения задания 5.</div>
<div class="t" id="s5a" style="left:124.40px;top:807.89px;font:400 19.2px/21.254px 'Liberation Serif', 'Times New Roman', serif;transform:scaleX(1.0950);word-spacing:-0.834px;-webkit-text-stroke:0.2px #111;">Скотный двор находится западнее ветряной мельницы.</div>
<div class="t" id="s6h" style="left:124.40px;top:837.39px;font:700 19.2px/21.254px 'Liberation Serif', 'Times New Roman', serif;transform:scaleX(1.0470);word-spacing:-0.034px;-webkit-text-stroke:0.2px #111;">Образец выполнения задания 6.</div>
<div class="t" id="s6a" style="left:124.40px;top:859.59px;font:400 19.2px/21.254px 'Liberation Serif', 'Times New Roman', serif;transform:scaleX(1.0950);word-spacing:0.763px;-webkit-text-stroke:0.2px #111;">Чтобы попасть из домика лесника к паромной переправе, нужно</div>
<div class="t" id="s6b" style="left:124.40px;top:881.99px;font:400 19.2px/21.254px 'Liberation Serif', 'Times New Roman', serif;transform:scaleX(1.0680);word-spacing:0.381px;-webkit-text-stroke:0.2px #111;">двигаться на северо-восток.</div>
<div class="t" id="pg" style="left:381.70px;top:918.14px;font:400 16.2px/18.095px 'Liberation Sans', Arial, sans-serif;word-spacing:0.442px;">– 12 –</div>
</body></html>
